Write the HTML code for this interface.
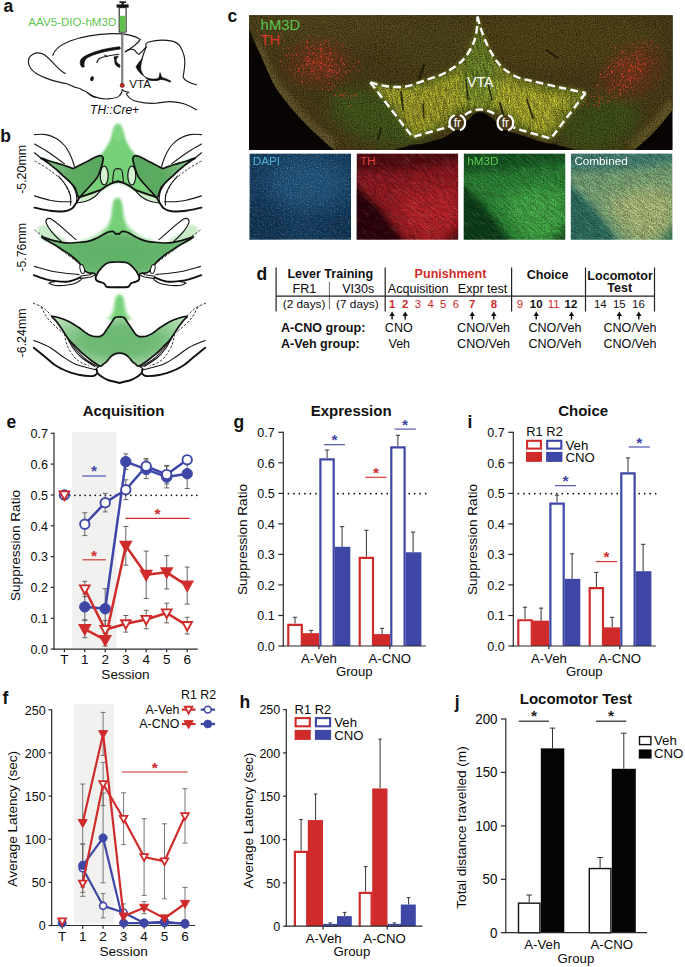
<!DOCTYPE html>
<html><head><meta charset="utf-8"><title>Figure</title><style>
html,body{margin:0;padding:0;background:#fff}
svg{display:block}
text{font-family:"Liberation Sans",sans-serif}
</style></head><body>
<svg width="685" height="967" viewBox="0 0 685 967">
<rect width="685" height="967" fill="#fff"/>
<text x="227.6" y="21.9" font-size="17.5" text-anchor="start" font-weight="bold" font-style="normal" fill="#111" >c</text>
<defs>
<clipPath id="cm"><rect x="249.0" y="15.2" width="423.70000000000005" height="134.8"/></clipPath>
<filter id="b2" x="-30%" y="-30%" width="160%" height="160%"><feGaussianBlur stdDeviation="2"/></filter>
<filter id="b4" x="-30%" y="-30%" width="160%" height="160%"><feGaussianBlur stdDeviation="4"/></filter>
<filter id="b8" x="-40%" y="-40%" width="180%" height="180%"><feGaussianBlur stdDeviation="8"/></filter>
<filter id="nz" x="0" y="0" width="100%" height="100%"><feTurbulence type="fractalNoise" baseFrequency="0.85" numOctaves="2" seed="7" result="t"/><feColorMatrix in="t" type="matrix" values="0 0 0 0 0  0 0 0 0 0  0 0 0 0 0  1.4 1.4 0 0 -1.0"/></filter>
<filter id="nzw" x="0" y="0" width="100%" height="100%"><feTurbulence type="fractalNoise" baseFrequency="0.7" numOctaves="2" seed="11" result="t"/><feColorMatrix in="t" type="matrix" values="0 0 0 0 1  0 0 0 0 1  0 0 0 0 1  0 2.4 2.4 0 -2.35"/></filter>
<filter id="nzr" x="0" y="0" width="100%" height="100%"><feTurbulence type="fractalNoise" baseFrequency="0.8" numOctaves="2" seed="23" result="t"/><feColorMatrix in="t" type="matrix" values="0 0 0 0 1  0 0 0 0 0.22  0 0 0 0 0.16  4 4 0 0 -4.3" result="n"/><feComposite in="n" in2="SourceGraphic" operator="in"/></filter>
<filter id="fib" x="0" y="0" width="100%" height="100%"><feTurbulence type="fractalNoise" baseFrequency="0.09 0.8" numOctaves="2" seed="4" result="t"/><feColorMatrix in="t" type="matrix" values="0 0 0 0 0  0 0 0 0 0  0 0 0 0 0  2.2 2.2 0 0 -1.75"/></filter>
<filter id="fibw" x="0" y="0" width="100%" height="100%"><feTurbulence type="fractalNoise" baseFrequency="0.1 0.9" numOctaves="2" seed="9" result="t"/><feColorMatrix in="t" type="matrix" values="0 0 0 0 1  0 0 0 0 1  0 0 0 0 0.6  0 2.6 2.6 0 -2.5"/></filter>
<radialGradient id="rg1"><stop offset="0" stop-color="#ff4030" stop-opacity="1"/><stop offset="0.55" stop-color="#ff4030" stop-opacity="0.7"/><stop offset="1" stop-color="#ff4030" stop-opacity="0"/></radialGradient>
<radialGradient id="rgl"><stop offset="0" stop-color="#b03a20" stop-opacity="0.55"/><stop offset="0.6" stop-color="#a03820" stop-opacity="0.3"/><stop offset="1" stop-color="#a03820" stop-opacity="0"/></radialGradient>
</defs>
<g clip-path="url(#cm)"><rect x="249.00" y="15.20" width="423.70" height="134.80" fill="#0a0605" stroke="none" stroke-width="0" />
<clipPath id="ctis"><path d="M249.0,10.0 C322.0,9.2 609.8,-4.3 682.0,10.0 C754.2,24.3 683.5,79.4 682.0,96.0 C680.5,112.6 676.0,105.0 672.7,109.5 C669.4,114.0 665.8,118.6 662.0,123.0 C658.2,127.4 654.5,131.6 650.0,136.0 C645.5,140.4 638.7,146.0 635.0,149.5 C631.3,153.0 640.4,155.8 628.0,157.0 C615.6,158.2 573.5,158.8 560.6,157.0 C547.8,155.2 556.2,149.6 550.9,146.5 C545.5,143.4 534.9,140.7 528.5,138.5 C522.1,136.3 517.1,135.9 512.4,133.6 C507.6,131.3 503.2,126.9 500.0,124.5 C496.8,122.1 495.4,121.0 493.1,119.2 C490.8,117.4 488.2,114.8 486.0,113.5 C483.8,112.2 482.0,111.4 480.0,111.5 C478.0,111.6 475.8,112.7 474.0,114.0 C472.2,115.3 471.7,116.9 469.0,119.2 C466.3,121.5 461.5,125.3 458.0,128.0 C454.5,130.7 451.2,133.4 448.2,135.2 C445.2,137.0 443.9,137.7 440.0,139.0 C436.1,140.3 430.0,141.2 425.0,143.0 C420.0,144.8 414.2,147.5 410.0,150.0 C405.8,152.5 410.8,156.7 400.0,158.0 C389.2,159.3 356.0,159.3 345.0,158.0 C334.0,156.7 337.2,152.5 334.0,150.0 C330.8,147.5 329.3,146.0 326.0,143.0 C322.7,140.0 318.3,136.2 314.0,132.0 C309.7,127.8 304.3,122.7 300.0,118.0 C295.7,113.3 292.0,109.0 288.0,104.0 C284.0,99.0 279.3,93.3 276.0,88.0 C272.7,82.7 270.3,77.0 268.0,72.0 C265.7,67.0 264.0,62.5 262.0,58.0 C260.0,53.5 258.2,50.0 256.0,45.0 C253.8,40.0 251.0,33.0 249.0,28.0 C247.0,23.0 244.0,18.0 244.0,15.0 C244.0,12.0 176.0,10.8 249.0,10.0 Z"/></clipPath>
<path d="M249.0,10.0 C322.0,9.2 609.8,-4.3 682.0,10.0 C754.2,24.3 683.5,79.4 682.0,96.0 C680.5,112.6 676.0,105.0 672.7,109.5 C669.4,114.0 665.8,118.6 662.0,123.0 C658.2,127.4 654.5,131.6 650.0,136.0 C645.5,140.4 638.7,146.0 635.0,149.5 C631.3,153.0 640.4,155.8 628.0,157.0 C615.6,158.2 573.5,158.8 560.6,157.0 C547.8,155.2 556.2,149.6 550.9,146.5 C545.5,143.4 534.9,140.7 528.5,138.5 C522.1,136.3 517.1,135.9 512.4,133.6 C507.6,131.3 503.2,126.9 500.0,124.5 C496.8,122.1 495.4,121.0 493.1,119.2 C490.8,117.4 488.2,114.8 486.0,113.5 C483.8,112.2 482.0,111.4 480.0,111.5 C478.0,111.6 475.8,112.7 474.0,114.0 C472.2,115.3 471.7,116.9 469.0,119.2 C466.3,121.5 461.5,125.3 458.0,128.0 C454.5,130.7 451.2,133.4 448.2,135.2 C445.2,137.0 443.9,137.7 440.0,139.0 C436.1,140.3 430.0,141.2 425.0,143.0 C420.0,144.8 414.2,147.5 410.0,150.0 C405.8,152.5 410.8,156.7 400.0,158.0 C389.2,159.3 356.0,159.3 345.0,158.0 C334.0,156.7 337.2,152.5 334.0,150.0 C330.8,147.5 329.3,146.0 326.0,143.0 C322.7,140.0 318.3,136.2 314.0,132.0 C309.7,127.8 304.3,122.7 300.0,118.0 C295.7,113.3 292.0,109.0 288.0,104.0 C284.0,99.0 279.3,93.3 276.0,88.0 C272.7,82.7 270.3,77.0 268.0,72.0 C265.7,67.0 264.0,62.5 262.0,58.0 C260.0,53.5 258.2,50.0 256.0,45.0 C253.8,40.0 251.0,33.0 249.0,28.0 C247.0,23.0 244.0,18.0 244.0,15.0 C244.0,12.0 176.0,10.8 249.0,10.0 Z" fill="#54461c"/>
<path d="M252.0,40.0 C253.2,42.3 256.7,49.0 259.0,54.0 C261.3,59.0 263.3,64.7 266.0,70.0 C268.7,75.3 271.3,80.5 275.0,86.0 C278.7,91.5 283.5,97.5 288.0,103.0 C292.5,108.5 297.0,113.8 302.0,119.0 C307.0,124.2 312.7,129.3 318.0,134.0 C323.3,138.7 331.3,144.8 334.0,147.0" fill="none" stroke="#7a6c38" stroke-width="14" opacity="0.75" filter="url(#b2)" clip-path="url(#ctis)"/>
<path d="M676.0,104.0 C674.0,106.7 668.3,114.8 664.0,120.0 C659.7,125.2 655.0,130.0 650.0,135.0 C645.0,140.0 636.7,147.5 634.0,150.0" fill="none" stroke="#7a6a32" stroke-width="18" opacity="0.8" filter="url(#b2)" clip-path="url(#ctis)"/>
<ellipse cx="330" cy="25" rx="90" ry="22" fill="#6a5a26" opacity="0.55" filter="url(#b8)"/>
<ellipse cx="560" cy="40" rx="100" ry="30" fill="#66561f" opacity="0.55" filter="url(#b8)"/>
<ellipse cx="440" cy="45" rx="50" ry="28" fill="#5e5420" opacity="0.6" filter="url(#b8)"/>
<ellipse cx="380" cy="118" rx="52" ry="24" fill="#4e6a22" opacity="0.9" filter="url(#b8)" transform="rotate(18 380 118)"/>
<ellipse cx="600" cy="124" rx="42" ry="26" fill="#48601f" opacity="0.9" filter="url(#b8)" transform="rotate(-20 600 124)"/>
<ellipse cx="318" cy="64" rx="42" ry="30" fill="url(#rgl)"/>
<ellipse cx="632" cy="72" rx="44" ry="32" fill="url(#rgl)" transform="rotate(-35 632 72)"/>
<circle cx="307.6" cy="42.7" r="0.85" fill="#ff4a38" opacity="0.97"/><circle cx="327.3" cy="36.9" r="0.46" fill="#ff4a38" opacity="0.76"/><circle cx="343.3" cy="63.2" r="0.90" fill="#ff4a38" opacity="0.60"/><circle cx="309.4" cy="58.5" r="0.72" fill="#ff4a38" opacity="0.81"/><circle cx="331.3" cy="65.4" r="0.59" fill="#ff4a38" opacity="0.96"/><circle cx="324.1" cy="55.3" r="0.85" fill="#ff4a38" opacity="0.61"/><circle cx="316.5" cy="55.3" r="0.45" fill="#ff4a38" opacity="0.94"/><circle cx="321.1" cy="68.9" r="0.94" fill="#ff4a38" opacity="0.94"/><circle cx="302.3" cy="83.2" r="0.72" fill="#ff4a38" opacity="0.86"/><circle cx="322.4" cy="88.3" r="0.80" fill="#ff4a38" opacity="0.98"/><circle cx="332.9" cy="59.2" r="0.63" fill="#ff4a38" opacity="0.62"/><circle cx="323.3" cy="65.2" r="0.60" fill="#ff4a38" opacity="0.82"/><circle cx="343.5" cy="69.6" r="0.62" fill="#ff4a38" opacity="0.69"/><circle cx="332.1" cy="52.9" r="0.61" fill="#ff4a38" opacity="0.77"/><circle cx="320.8" cy="57.1" r="0.94" fill="#ff4a38" opacity="0.56"/><circle cx="328.2" cy="41.0" r="0.46" fill="#ff4a38" opacity="0.90"/><circle cx="304.1" cy="66.3" r="0.45" fill="#ff4a38" opacity="0.57"/><circle cx="328.3" cy="90.1" r="0.55" fill="#ff4a38" opacity="0.89"/><circle cx="357.3" cy="62.3" r="0.62" fill="#ff4a38" opacity="0.71"/><circle cx="296.3" cy="48.9" r="0.50" fill="#ff4a38" opacity="0.89"/><circle cx="336.8" cy="44.6" r="0.47" fill="#ff4a38" opacity="0.98"/><circle cx="330.7" cy="70.3" r="0.76" fill="#ff4a38" opacity="0.96"/><circle cx="295.5" cy="74.2" r="0.72" fill="#ff4a38" opacity="0.69"/><circle cx="315.0" cy="65.5" r="0.49" fill="#ff4a38" opacity="0.62"/><circle cx="313.8" cy="21.7" r="0.53" fill="#ff4a38" opacity="0.57"/><circle cx="339.9" cy="66.7" r="0.65" fill="#ff4a38" opacity="0.66"/><circle cx="301.5" cy="41.7" r="0.68" fill="#ff4a38" opacity="0.74"/><circle cx="349.6" cy="80.3" r="0.47" fill="#ff4a38" opacity="0.77"/><circle cx="326.9" cy="57.9" r="0.82" fill="#ff4a38" opacity="0.98"/><circle cx="307.8" cy="41.1" r="0.50" fill="#ff4a38" opacity="0.75"/><circle cx="332.3" cy="83.3" r="0.60" fill="#ff4a38" opacity="0.75"/><circle cx="350.4" cy="71.6" r="0.94" fill="#ff4a38" opacity="0.75"/><circle cx="296.3" cy="53.4" r="0.69" fill="#ff4a38" opacity="0.68"/><circle cx="312.8" cy="61.8" r="0.64" fill="#ff4a38" opacity="0.99"/><circle cx="342.8" cy="64.8" r="0.70" fill="#ff4a38" opacity="0.70"/><circle cx="329.6" cy="69.1" r="0.84" fill="#ff4a38" opacity="0.94"/><circle cx="298.9" cy="68.7" r="0.84" fill="#ff4a38" opacity="0.86"/><circle cx="313.4" cy="41.3" r="0.63" fill="#ff4a38" opacity="0.87"/><circle cx="313.4" cy="71.5" r="0.83" fill="#ff4a38" opacity="0.86"/><circle cx="302.4" cy="81.4" r="0.77" fill="#ff4a38" opacity="0.81"/><circle cx="339.5" cy="68.8" r="0.58" fill="#ff4a38" opacity="0.85"/><circle cx="292.5" cy="55.6" r="0.77" fill="#ff4a38" opacity="0.91"/><circle cx="304.1" cy="68.6" r="0.82" fill="#ff4a38" opacity="0.92"/><circle cx="298.1" cy="70.9" r="0.88" fill="#ff4a38" opacity="0.86"/><circle cx="359.6" cy="70.7" r="0.71" fill="#ff4a38" opacity="0.79"/><circle cx="329.2" cy="83.2" r="0.92" fill="#ff4a38" opacity="0.76"/><circle cx="318.0" cy="42.5" r="0.82" fill="#ff4a38" opacity="0.63"/><circle cx="329.6" cy="49.0" r="0.78" fill="#ff4a38" opacity="0.74"/><circle cx="307.1" cy="41.7" r="0.77" fill="#ff4a38" opacity="0.87"/><circle cx="329.4" cy="65.2" r="0.67" fill="#ff4a38" opacity="0.84"/><circle cx="319.8" cy="78.0" r="0.77" fill="#ff4a38" opacity="0.57"/><circle cx="309.9" cy="58.5" r="0.48" fill="#ff4a38" opacity="0.61"/><circle cx="314.9" cy="65.5" r="0.55" fill="#ff4a38" opacity="0.57"/><circle cx="305.8" cy="58.0" r="0.76" fill="#ff4a38" opacity="0.82"/><circle cx="315.4" cy="84.2" r="0.45" fill="#ff4a38" opacity="0.73"/><circle cx="314.4" cy="70.4" r="0.51" fill="#ff4a38" opacity="0.92"/><circle cx="317.4" cy="62.0" r="0.76" fill="#ff4a38" opacity="0.59"/><circle cx="308.8" cy="53.6" r="0.74" fill="#ff4a38" opacity="0.98"/><circle cx="331.1" cy="53.6" r="0.86" fill="#ff4a38" opacity="0.84"/><circle cx="313.8" cy="63.1" r="0.75" fill="#ff4a38" opacity="0.80"/><circle cx="361.7" cy="67.6" r="0.75" fill="#ff4a38" opacity="0.71"/><circle cx="321.6" cy="60.9" r="0.50" fill="#ff4a38" opacity="0.80"/><circle cx="316.2" cy="55.0" r="0.76" fill="#ff4a38" opacity="0.95"/><circle cx="306.8" cy="64.6" r="0.56" fill="#ff4a38" opacity="0.68"/><circle cx="336.1" cy="64.5" r="0.93" fill="#ff4a38" opacity="0.96"/><circle cx="313.0" cy="53.0" r="0.94" fill="#ff4a38" opacity="0.77"/><circle cx="308.0" cy="61.5" r="0.94" fill="#ff4a38" opacity="0.77"/><circle cx="312.9" cy="71.0" r="0.51" fill="#ff4a38" opacity="0.83"/><circle cx="308.2" cy="59.7" r="0.84" fill="#ff4a38" opacity="0.92"/><circle cx="339.1" cy="68.8" r="0.59" fill="#ff4a38" opacity="0.97"/><circle cx="326.0" cy="54.2" r="0.58" fill="#ff4a38" opacity="0.62"/><circle cx="333.7" cy="64.9" r="0.75" fill="#ff4a38" opacity="0.76"/><circle cx="312.5" cy="45.3" r="0.82" fill="#ff4a38" opacity="0.60"/><circle cx="325.0" cy="52.6" r="0.72" fill="#ff4a38" opacity="0.70"/><circle cx="311.2" cy="71.2" r="0.68" fill="#ff4a38" opacity="0.71"/><circle cx="325.4" cy="47.0" r="0.47" fill="#ff4a38" opacity="0.66"/><circle cx="286.5" cy="55.6" r="0.89" fill="#ff4a38" opacity="0.80"/><circle cx="346.4" cy="72.1" r="0.66" fill="#ff4a38" opacity="0.81"/><circle cx="320.6" cy="44.9" r="0.69" fill="#ff4a38" opacity="0.96"/><circle cx="307.2" cy="63.7" r="0.88" fill="#ff4a38" opacity="0.64"/><circle cx="306.1" cy="76.7" r="0.48" fill="#ff4a38" opacity="0.93"/><circle cx="319.3" cy="48.7" r="0.59" fill="#ff4a38" opacity="0.90"/><circle cx="329.2" cy="60.5" r="0.69" fill="#ff4a38" opacity="0.80"/><circle cx="307.5" cy="56.2" r="0.53" fill="#ff4a38" opacity="0.81"/><circle cx="324.5" cy="58.2" r="0.57" fill="#ff4a38" opacity="0.92"/><circle cx="332.1" cy="48.4" r="0.46" fill="#ff4a38" opacity="0.88"/><circle cx="376.1" cy="75.5" r="0.80" fill="#ff4a38" opacity="0.57"/><circle cx="329.0" cy="57.0" r="0.77" fill="#ff4a38" opacity="0.98"/><circle cx="321.1" cy="54.9" r="0.60" fill="#ff4a38" opacity="0.96"/><circle cx="329.0" cy="76.9" r="0.66" fill="#ff4a38" opacity="0.62"/><circle cx="318.6" cy="57.7" r="0.50" fill="#ff4a38" opacity="0.72"/><circle cx="325.1" cy="64.3" r="0.74" fill="#ff4a38" opacity="0.88"/><circle cx="328.2" cy="59.3" r="0.67" fill="#ff4a38" opacity="0.69"/><circle cx="309.5" cy="48.8" r="0.92" fill="#ff4a38" opacity="0.72"/><circle cx="340.8" cy="74.4" r="0.53" fill="#ff4a38" opacity="0.83"/><circle cx="288.3" cy="48.2" r="0.73" fill="#ff4a38" opacity="0.83"/><circle cx="314.7" cy="73.5" r="0.58" fill="#ff4a38" opacity="0.89"/><circle cx="313.2" cy="57.5" r="0.57" fill="#ff4a38" opacity="0.72"/><circle cx="322.6" cy="54.2" r="0.81" fill="#ff4a38" opacity="0.84"/><circle cx="337.3" cy="75.8" r="0.50" fill="#ff4a38" opacity="0.61"/><circle cx="313.3" cy="53.4" r="0.89" fill="#ff4a38" opacity="0.77"/><circle cx="303.1" cy="73.2" r="0.46" fill="#ff4a38" opacity="0.88"/><circle cx="328.4" cy="65.9" r="0.93" fill="#ff4a38" opacity="0.86"/><circle cx="320.4" cy="66.5" r="0.94" fill="#ff4a38" opacity="0.85"/><circle cx="326.4" cy="57.2" r="0.76" fill="#ff4a38" opacity="0.71"/><circle cx="318.9" cy="70.7" r="0.76" fill="#ff4a38" opacity="0.71"/><circle cx="313.5" cy="62.5" r="0.87" fill="#ff4a38" opacity="0.84"/><circle cx="330.2" cy="52.6" r="0.88" fill="#ff4a38" opacity="0.78"/><circle cx="307.3" cy="47.6" r="0.82" fill="#ff4a38" opacity="0.73"/><circle cx="323.6" cy="63.7" r="0.55" fill="#ff4a38" opacity="0.57"/><circle cx="337.0" cy="58.2" r="0.83" fill="#ff4a38" opacity="0.55"/><circle cx="288.5" cy="53.8" r="0.76" fill="#ff4a38" opacity="0.74"/><circle cx="313.9" cy="59.6" r="0.53" fill="#ff4a38" opacity="0.62"/><circle cx="307.9" cy="64.4" r="0.89" fill="#ff4a38" opacity="0.62"/><circle cx="317.7" cy="69.2" r="0.53" fill="#ff4a38" opacity="0.68"/><circle cx="318.3" cy="73.4" r="0.47" fill="#ff4a38" opacity="0.97"/><circle cx="290.4" cy="70.1" r="0.79" fill="#ff4a38" opacity="0.85"/><circle cx="283.7" cy="52.4" r="0.51" fill="#ff4a38" opacity="0.85"/><circle cx="309.8" cy="73.9" r="0.81" fill="#ff4a38" opacity="0.62"/><circle cx="321.2" cy="63.6" r="0.57" fill="#ff4a38" opacity="0.59"/><circle cx="282.1" cy="65.2" r="0.63" fill="#ff4a38" opacity="0.69"/><circle cx="308.4" cy="58.3" r="0.82" fill="#ff4a38" opacity="0.87"/><circle cx="324.4" cy="69.7" r="0.79" fill="#ff4a38" opacity="0.97"/><circle cx="314.5" cy="48.8" r="0.94" fill="#ff4a38" opacity="0.55"/><circle cx="342.8" cy="76.5" r="0.66" fill="#ff4a38" opacity="0.57"/><circle cx="281.1" cy="35.9" r="0.71" fill="#ff4a38" opacity="0.71"/><circle cx="325.0" cy="65.0" r="0.90" fill="#ff4a38" opacity="0.77"/><circle cx="326.1" cy="61.3" r="0.57" fill="#ff4a38" opacity="0.57"/><circle cx="316.0" cy="61.6" r="0.58" fill="#ff4a38" opacity="0.73"/><circle cx="318.2" cy="63.5" r="0.47" fill="#ff4a38" opacity="0.99"/><circle cx="324.6" cy="74.9" r="0.65" fill="#ff4a38" opacity="0.79"/><circle cx="330.6" cy="69.6" r="0.50" fill="#ff4a38" opacity="0.79"/><circle cx="341.3" cy="60.9" r="0.88" fill="#ff4a38" opacity="0.65"/><circle cx="339.1" cy="69.2" r="0.69" fill="#ff4a38" opacity="0.81"/><circle cx="302.3" cy="65.7" r="0.81" fill="#ff4a38" opacity="0.96"/><circle cx="311.3" cy="69.4" r="0.86" fill="#ff4a38" opacity="0.65"/><circle cx="328.5" cy="70.5" r="0.49" fill="#ff4a38" opacity="0.90"/><circle cx="329.5" cy="54.9" r="0.51" fill="#ff4a38" opacity="0.59"/><circle cx="319.6" cy="65.4" r="0.66" fill="#ff4a38" opacity="0.81"/><circle cx="319.8" cy="64.7" r="0.80" fill="#ff4a38" opacity="0.57"/><circle cx="321.9" cy="70.5" r="0.64" fill="#ff4a38" opacity="0.59"/><circle cx="308.0" cy="61.1" r="0.83" fill="#ff4a38" opacity="0.80"/><circle cx="341.7" cy="58.2" r="0.83" fill="#ff4a38" opacity="0.81"/><circle cx="292.6" cy="58.3" r="0.78" fill="#ff4a38" opacity="0.98"/><circle cx="323.6" cy="43.9" r="0.58" fill="#ff4a38" opacity="0.92"/><circle cx="313.8" cy="62.5" r="0.48" fill="#ff4a38" opacity="0.63"/><circle cx="313.6" cy="75.8" r="0.59" fill="#ff4a38" opacity="0.58"/><circle cx="327.4" cy="48.5" r="0.46" fill="#ff4a38" opacity="0.57"/><circle cx="328.1" cy="71.6" r="0.88" fill="#ff4a38" opacity="0.98"/><circle cx="314.5" cy="53.1" r="0.66" fill="#ff4a38" opacity="0.71"/><circle cx="319.3" cy="62.0" r="0.74" fill="#ff4a38" opacity="0.92"/><circle cx="321.7" cy="56.1" r="0.72" fill="#ff4a38" opacity="0.63"/><circle cx="320.8" cy="48.6" r="0.92" fill="#ff4a38" opacity="0.91"/><circle cx="328.5" cy="70.6" r="0.91" fill="#ff4a38" opacity="0.76"/><circle cx="304.5" cy="60.1" r="0.83" fill="#ff4a38" opacity="0.97"/><circle cx="284.1" cy="41.3" r="0.75" fill="#ff4a38" opacity="0.60"/><circle cx="330.8" cy="53.3" r="0.48" fill="#ff4a38" opacity="0.99"/><circle cx="339.3" cy="70.8" r="0.69" fill="#ff4a38" opacity="0.95"/><circle cx="311.2" cy="62.5" r="0.59" fill="#ff4a38" opacity="0.64"/><circle cx="309.3" cy="52.5" r="0.83" fill="#ff4a38" opacity="0.66"/><circle cx="311.9" cy="64.8" r="0.94" fill="#ff4a38" opacity="0.93"/><circle cx="337.5" cy="53.8" r="0.65" fill="#ff4a38" opacity="0.61"/><circle cx="333.4" cy="53.7" r="0.47" fill="#ff4a38" opacity="0.63"/><circle cx="337.0" cy="77.6" r="0.90" fill="#ff4a38" opacity="0.64"/><circle cx="328.1" cy="53.7" r="0.79" fill="#ff4a38" opacity="0.94"/><circle cx="306.4" cy="41.0" r="0.64" fill="#ff4a38" opacity="0.55"/><circle cx="301.4" cy="52.7" r="0.54" fill="#ff4a38" opacity="0.73"/><circle cx="318.8" cy="62.7" r="0.61" fill="#ff4a38" opacity="0.72"/><circle cx="296.9" cy="55.0" r="0.65" fill="#ff4a38" opacity="0.99"/><circle cx="342.5" cy="44.5" r="0.80" fill="#ff4a38" opacity="0.85"/><circle cx="296.3" cy="47.2" r="0.63" fill="#ff4a38" opacity="0.82"/><circle cx="317.3" cy="46.8" r="0.59" fill="#ff4a38" opacity="0.58"/><circle cx="331.2" cy="70.4" r="0.74" fill="#ff4a38" opacity="0.89"/><circle cx="321.3" cy="51.3" r="0.91" fill="#ff4a38" opacity="0.67"/><circle cx="321.2" cy="56.6" r="0.83" fill="#ff4a38" opacity="0.85"/><circle cx="354.0" cy="66.4" r="0.79" fill="#ff4a38" opacity="0.93"/><circle cx="324.7" cy="46.3" r="0.55" fill="#ff4a38" opacity="0.78"/><circle cx="331.5" cy="59.6" r="0.94" fill="#ff4a38" opacity="0.79"/><circle cx="319.9" cy="61.2" r="0.65" fill="#ff4a38" opacity="0.63"/><circle cx="309.2" cy="36.1" r="0.91" fill="#ff4a38" opacity="0.83"/><circle cx="314.4" cy="62.3" r="0.79" fill="#ff4a38" opacity="0.80"/><circle cx="321.4" cy="50.1" r="0.89" fill="#ff4a38" opacity="0.65"/><circle cx="314.1" cy="67.2" r="0.76" fill="#ff4a38" opacity="0.95"/><circle cx="326.9" cy="77.5" r="0.83" fill="#ff4a38" opacity="0.65"/><circle cx="337.1" cy="72.7" r="0.87" fill="#ff4a38" opacity="0.95"/><circle cx="322.7" cy="49.6" r="0.66" fill="#ff4a38" opacity="0.79"/><circle cx="333.3" cy="59.9" r="0.59" fill="#ff4a38" opacity="0.82"/><circle cx="331.0" cy="63.1" r="0.47" fill="#ff4a38" opacity="0.60"/><circle cx="304.1" cy="48.7" r="0.54" fill="#ff4a38" opacity="0.64"/><circle cx="306.1" cy="46.1" r="0.80" fill="#ff4a38" opacity="0.88"/><circle cx="335.4" cy="71.3" r="0.87" fill="#ff4a38" opacity="0.98"/><circle cx="302.1" cy="74.9" r="0.77" fill="#ff4a38" opacity="0.97"/><circle cx="318.3" cy="77.9" r="0.87" fill="#ff4a38" opacity="0.76"/><circle cx="327.5" cy="67.9" r="0.53" fill="#ff4a38" opacity="0.59"/><circle cx="328.8" cy="77.0" r="0.50" fill="#ff4a38" opacity="0.89"/><circle cx="325.5" cy="41.2" r="0.85" fill="#ff4a38" opacity="0.87"/><circle cx="358.8" cy="61.3" r="0.76" fill="#ff4a38" opacity="0.98"/><circle cx="325.5" cy="65.9" r="0.48" fill="#ff4a38" opacity="0.64"/><circle cx="306.3" cy="64.9" r="0.79" fill="#ff4a38" opacity="0.88"/><circle cx="332.3" cy="71.1" r="0.72" fill="#ff4a38" opacity="0.72"/><circle cx="332.6" cy="75.8" r="0.64" fill="#ff4a38" opacity="0.86"/><circle cx="282.2" cy="47.7" r="0.92" fill="#ff4a38" opacity="0.58"/><circle cx="328.5" cy="45.0" r="0.60" fill="#ff4a38" opacity="0.60"/><circle cx="306.6" cy="57.2" r="0.82" fill="#ff4a38" opacity="0.96"/><circle cx="309.7" cy="63.4" r="0.70" fill="#ff4a38" opacity="0.86"/><circle cx="330.6" cy="49.6" r="0.60" fill="#ff4a38" opacity="0.70"/><circle cx="335.2" cy="54.6" r="0.48" fill="#ff4a38" opacity="0.74"/><circle cx="317.1" cy="76.9" r="0.49" fill="#ff4a38" opacity="0.67"/><circle cx="332.7" cy="72.8" r="0.94" fill="#ff4a38" opacity="0.79"/><circle cx="288.8" cy="67.2" r="0.50" fill="#ff4a38" opacity="0.71"/><circle cx="321.9" cy="60.2" r="0.83" fill="#ff4a38" opacity="0.71"/><circle cx="332.1" cy="65.9" r="0.68" fill="#ff4a38" opacity="0.72"/><circle cx="316.2" cy="58.8" r="0.56" fill="#ff4a38" opacity="0.99"/><circle cx="303.6" cy="59.3" r="0.49" fill="#ff4a38" opacity="0.68"/><circle cx="344.6" cy="64.6" r="0.70" fill="#ff4a38" opacity="0.57"/><circle cx="296.5" cy="64.8" r="0.67" fill="#ff4a38" opacity="0.82"/><circle cx="341.8" cy="58.9" r="0.77" fill="#ff4a38" opacity="0.57"/><circle cx="345.5" cy="72.9" r="0.66" fill="#ff4a38" opacity="0.94"/><circle cx="343.7" cy="46.1" r="0.64" fill="#ff4a38" opacity="1.00"/><circle cx="330.2" cy="39.7" r="0.52" fill="#ff4a38" opacity="0.90"/><circle cx="280.8" cy="61.1" r="0.95" fill="#ff4a38" opacity="0.65"/><circle cx="309.1" cy="61.1" r="0.68" fill="#ff4a38" opacity="0.68"/><circle cx="318.8" cy="55.0" r="0.53" fill="#ff4a38" opacity="0.76"/><circle cx="332.5" cy="70.3" r="0.90" fill="#ff4a38" opacity="0.95"/><circle cx="321.3" cy="63.2" r="0.86" fill="#ff4a38" opacity="0.98"/><circle cx="315.6" cy="55.3" r="0.57" fill="#ff4a38" opacity="0.96"/><circle cx="324.9" cy="61.3" r="0.54" fill="#ff4a38" opacity="0.74"/><circle cx="312.1" cy="77.3" r="0.64" fill="#ff4a38" opacity="0.90"/><circle cx="327.8" cy="75.0" r="0.94" fill="#ff4a38" opacity="0.87"/><circle cx="326.2" cy="65.9" r="0.77" fill="#ff4a38" opacity="0.72"/><circle cx="623.3" cy="85.5" r="0.74" fill="#ff4a38" opacity="0.98"/><circle cx="637.7" cy="78.7" r="0.58" fill="#ff4a38" opacity="0.80"/><circle cx="623.6" cy="66.8" r="0.69" fill="#ff4a38" opacity="0.87"/><circle cx="651.5" cy="50.0" r="0.66" fill="#ff4a38" opacity="0.78"/><circle cx="602.2" cy="78.0" r="0.48" fill="#ff4a38" opacity="0.78"/><circle cx="642.4" cy="60.2" r="0.62" fill="#ff4a38" opacity="0.56"/><circle cx="630.7" cy="81.7" r="0.78" fill="#ff4a38" opacity="0.97"/><circle cx="622.7" cy="86.8" r="0.81" fill="#ff4a38" opacity="0.97"/><circle cx="659.6" cy="29.1" r="0.60" fill="#ff4a38" opacity="0.62"/><circle cx="631.8" cy="64.4" r="0.67" fill="#ff4a38" opacity="0.88"/><circle cx="613.8" cy="80.4" r="0.91" fill="#ff4a38" opacity="0.68"/><circle cx="600.1" cy="87.0" r="0.52" fill="#ff4a38" opacity="0.71"/><circle cx="611.0" cy="85.9" r="0.55" fill="#ff4a38" opacity="0.75"/><circle cx="634.4" cy="66.4" r="0.62" fill="#ff4a38" opacity="0.61"/><circle cx="637.2" cy="59.6" r="0.59" fill="#ff4a38" opacity="0.90"/><circle cx="622.2" cy="64.7" r="0.86" fill="#ff4a38" opacity="0.83"/><circle cx="619.7" cy="89.7" r="0.57" fill="#ff4a38" opacity="0.67"/><circle cx="633.2" cy="55.2" r="0.90" fill="#ff4a38" opacity="0.63"/><circle cx="632.5" cy="69.3" r="0.82" fill="#ff4a38" opacity="0.80"/><circle cx="632.1" cy="66.6" r="0.86" fill="#ff4a38" opacity="0.77"/><circle cx="629.3" cy="66.1" r="0.74" fill="#ff4a38" opacity="0.60"/><circle cx="615.6" cy="62.9" r="0.76" fill="#ff4a38" opacity="0.65"/><circle cx="633.1" cy="63.3" r="0.48" fill="#ff4a38" opacity="0.86"/><circle cx="633.5" cy="67.8" r="0.68" fill="#ff4a38" opacity="0.84"/><circle cx="637.9" cy="47.6" r="0.48" fill="#ff4a38" opacity="0.84"/><circle cx="628.9" cy="63.5" r="0.83" fill="#ff4a38" opacity="0.67"/><circle cx="628.1" cy="70.6" r="0.83" fill="#ff4a38" opacity="0.78"/><circle cx="635.9" cy="54.2" r="0.53" fill="#ff4a38" opacity="0.65"/><circle cx="641.4" cy="90.4" r="0.55" fill="#ff4a38" opacity="0.59"/><circle cx="626.9" cy="75.4" r="0.66" fill="#ff4a38" opacity="0.83"/><circle cx="619.8" cy="70.6" r="0.52" fill="#ff4a38" opacity="0.77"/><circle cx="615.7" cy="67.6" r="0.74" fill="#ff4a38" opacity="0.96"/><circle cx="638.6" cy="68.8" r="0.70" fill="#ff4a38" opacity="0.79"/><circle cx="636.8" cy="52.0" r="0.78" fill="#ff4a38" opacity="0.74"/><circle cx="621.0" cy="51.3" r="0.60" fill="#ff4a38" opacity="0.60"/><circle cx="633.6" cy="77.6" r="0.89" fill="#ff4a38" opacity="0.67"/><circle cx="607.9" cy="74.1" r="0.93" fill="#ff4a38" opacity="0.60"/><circle cx="623.5" cy="62.0" r="0.50" fill="#ff4a38" opacity="0.83"/><circle cx="630.5" cy="53.0" r="0.47" fill="#ff4a38" opacity="0.99"/><circle cx="620.1" cy="89.8" r="0.81" fill="#ff4a38" opacity="0.67"/><circle cx="621.2" cy="82.6" r="0.50" fill="#ff4a38" opacity="0.58"/><circle cx="618.4" cy="65.1" r="0.88" fill="#ff4a38" opacity="0.58"/><circle cx="629.3" cy="76.9" r="0.92" fill="#ff4a38" opacity="0.91"/><circle cx="635.8" cy="53.3" r="0.50" fill="#ff4a38" opacity="0.74"/><circle cx="630.0" cy="71.3" r="0.73" fill="#ff4a38" opacity="0.68"/><circle cx="645.5" cy="64.3" r="0.92" fill="#ff4a38" opacity="0.98"/><circle cx="622.6" cy="76.2" r="0.83" fill="#ff4a38" opacity="0.60"/><circle cx="621.9" cy="74.2" r="0.94" fill="#ff4a38" opacity="0.79"/><circle cx="620.2" cy="81.1" r="0.73" fill="#ff4a38" opacity="0.99"/><circle cx="621.8" cy="79.6" r="0.71" fill="#ff4a38" opacity="0.96"/><circle cx="620.4" cy="89.7" r="0.91" fill="#ff4a38" opacity="0.70"/><circle cx="626.5" cy="56.0" r="0.52" fill="#ff4a38" opacity="0.57"/><circle cx="639.1" cy="54.4" r="0.67" fill="#ff4a38" opacity="0.96"/><circle cx="610.4" cy="78.8" r="0.59" fill="#ff4a38" opacity="0.88"/><circle cx="634.9" cy="78.9" r="0.83" fill="#ff4a38" opacity="0.82"/><circle cx="637.4" cy="68.3" r="0.80" fill="#ff4a38" opacity="0.88"/><circle cx="679.0" cy="52.1" r="0.52" fill="#ff4a38" opacity="0.63"/><circle cx="644.2" cy="63.2" r="0.76" fill="#ff4a38" opacity="0.94"/><circle cx="647.6" cy="70.2" r="0.50" fill="#ff4a38" opacity="0.81"/><circle cx="634.1" cy="77.1" r="0.48" fill="#ff4a38" opacity="0.87"/><circle cx="652.3" cy="64.1" r="0.62" fill="#ff4a38" opacity="0.82"/><circle cx="612.1" cy="72.4" r="0.89" fill="#ff4a38" opacity="0.96"/><circle cx="631.5" cy="78.7" r="0.89" fill="#ff4a38" opacity="0.61"/><circle cx="619.2" cy="84.6" r="0.94" fill="#ff4a38" opacity="0.61"/><circle cx="606.0" cy="71.0" r="0.81" fill="#ff4a38" opacity="0.55"/><circle cx="636.9" cy="58.0" r="0.88" fill="#ff4a38" opacity="0.85"/><circle cx="611.7" cy="96.9" r="0.79" fill="#ff4a38" opacity="0.70"/><circle cx="618.3" cy="62.9" r="0.81" fill="#ff4a38" opacity="0.83"/><circle cx="626.5" cy="63.8" r="0.70" fill="#ff4a38" opacity="0.55"/><circle cx="622.7" cy="52.4" r="0.87" fill="#ff4a38" opacity="0.57"/><circle cx="611.4" cy="81.5" r="0.51" fill="#ff4a38" opacity="0.64"/><circle cx="651.7" cy="44.4" r="0.57" fill="#ff4a38" opacity="0.92"/><circle cx="615.0" cy="71.0" r="0.77" fill="#ff4a38" opacity="0.65"/><circle cx="628.7" cy="71.3" r="0.78" fill="#ff4a38" opacity="0.81"/><circle cx="619.4" cy="61.8" r="0.67" fill="#ff4a38" opacity="0.69"/><circle cx="620.4" cy="63.9" r="0.75" fill="#ff4a38" opacity="0.89"/><circle cx="612.3" cy="91.1" r="0.48" fill="#ff4a38" opacity="0.67"/><circle cx="628.9" cy="62.8" r="0.48" fill="#ff4a38" opacity="0.56"/><circle cx="625.5" cy="65.9" r="0.68" fill="#ff4a38" opacity="0.75"/><circle cx="625.8" cy="57.5" r="0.71" fill="#ff4a38" opacity="0.56"/><circle cx="623.4" cy="52.0" r="0.76" fill="#ff4a38" opacity="0.93"/><circle cx="605.0" cy="76.7" r="0.88" fill="#ff4a38" opacity="0.83"/><circle cx="657.3" cy="47.1" r="0.94" fill="#ff4a38" opacity="0.64"/><circle cx="641.6" cy="62.7" r="0.50" fill="#ff4a38" opacity="0.72"/><circle cx="638.5" cy="65.6" r="0.45" fill="#ff4a38" opacity="0.74"/><circle cx="631.6" cy="87.4" r="0.64" fill="#ff4a38" opacity="0.62"/><circle cx="651.1" cy="41.0" r="0.79" fill="#ff4a38" opacity="0.65"/><circle cx="620.2" cy="85.5" r="0.65" fill="#ff4a38" opacity="0.56"/><circle cx="609.2" cy="93.3" r="0.80" fill="#ff4a38" opacity="0.94"/><circle cx="608.4" cy="66.9" r="0.89" fill="#ff4a38" opacity="0.96"/><circle cx="625.0" cy="59.2" r="0.78" fill="#ff4a38" opacity="0.85"/><circle cx="636.6" cy="48.0" r="0.67" fill="#ff4a38" opacity="0.64"/><circle cx="627.7" cy="79.3" r="0.79" fill="#ff4a38" opacity="0.90"/><circle cx="641.6" cy="73.3" r="0.87" fill="#ff4a38" opacity="0.71"/><circle cx="648.2" cy="62.1" r="0.63" fill="#ff4a38" opacity="0.61"/><circle cx="628.4" cy="71.2" r="0.52" fill="#ff4a38" opacity="0.74"/><circle cx="629.6" cy="69.5" r="0.72" fill="#ff4a38" opacity="0.98"/><circle cx="628.9" cy="58.9" r="0.91" fill="#ff4a38" opacity="0.59"/><circle cx="629.5" cy="69.9" r="0.48" fill="#ff4a38" opacity="0.82"/><circle cx="621.0" cy="60.9" r="0.85" fill="#ff4a38" opacity="0.75"/><circle cx="639.5" cy="50.6" r="0.72" fill="#ff4a38" opacity="0.63"/><circle cx="618.3" cy="85.2" r="0.86" fill="#ff4a38" opacity="0.65"/><circle cx="633.0" cy="89.3" r="0.49" fill="#ff4a38" opacity="0.79"/><circle cx="641.5" cy="77.4" r="0.75" fill="#ff4a38" opacity="0.59"/><circle cx="619.5" cy="64.0" r="0.61" fill="#ff4a38" opacity="0.94"/><circle cx="624.4" cy="61.8" r="0.79" fill="#ff4a38" opacity="0.61"/><circle cx="622.2" cy="74.6" r="0.77" fill="#ff4a38" opacity="0.96"/><circle cx="624.0" cy="70.7" r="0.71" fill="#ff4a38" opacity="0.76"/><circle cx="622.2" cy="77.9" r="0.59" fill="#ff4a38" opacity="0.75"/><circle cx="650.4" cy="58.5" r="0.57" fill="#ff4a38" opacity="0.68"/><circle cx="640.6" cy="64.8" r="0.92" fill="#ff4a38" opacity="0.68"/><circle cx="641.6" cy="64.7" r="0.92" fill="#ff4a38" opacity="0.59"/><circle cx="626.8" cy="78.8" r="0.79" fill="#ff4a38" opacity="0.76"/><circle cx="657.4" cy="59.0" r="0.61" fill="#ff4a38" opacity="0.86"/><circle cx="606.0" cy="97.7" r="0.48" fill="#ff4a38" opacity="0.65"/><circle cx="630.8" cy="77.8" r="0.86" fill="#ff4a38" opacity="0.78"/><circle cx="625.4" cy="85.4" r="0.87" fill="#ff4a38" opacity="0.81"/><circle cx="612.3" cy="90.1" r="0.76" fill="#ff4a38" opacity="0.73"/><circle cx="623.2" cy="77.5" r="0.67" fill="#ff4a38" opacity="0.95"/><circle cx="629.6" cy="80.6" r="0.75" fill="#ff4a38" opacity="0.82"/><circle cx="641.1" cy="71.3" r="0.82" fill="#ff4a38" opacity="0.57"/><circle cx="652.5" cy="62.2" r="0.90" fill="#ff4a38" opacity="0.58"/><circle cx="649.0" cy="60.4" r="0.59" fill="#ff4a38" opacity="0.85"/><circle cx="644.0" cy="58.8" r="0.53" fill="#ff4a38" opacity="0.70"/><circle cx="615.0" cy="66.7" r="0.88" fill="#ff4a38" opacity="0.93"/><circle cx="600.2" cy="77.3" r="0.54" fill="#ff4a38" opacity="0.76"/><circle cx="628.6" cy="86.6" r="0.51" fill="#ff4a38" opacity="0.95"/><circle cx="620.4" cy="93.9" r="0.92" fill="#ff4a38" opacity="0.97"/><circle cx="616.1" cy="97.6" r="0.95" fill="#ff4a38" opacity="0.61"/><circle cx="616.9" cy="58.3" r="0.68" fill="#ff4a38" opacity="0.68"/><circle cx="640.5" cy="71.0" r="0.92" fill="#ff4a38" opacity="0.73"/><circle cx="636.7" cy="80.9" r="0.67" fill="#ff4a38" opacity="0.83"/><circle cx="619.0" cy="81.2" r="0.47" fill="#ff4a38" opacity="0.92"/><circle cx="618.4" cy="70.2" r="0.70" fill="#ff4a38" opacity="0.81"/><circle cx="598.9" cy="95.5" r="0.84" fill="#ff4a38" opacity="0.69"/><circle cx="626.1" cy="87.4" r="0.53" fill="#ff4a38" opacity="0.97"/><circle cx="645.3" cy="58.9" r="0.59" fill="#ff4a38" opacity="0.79"/><circle cx="638.5" cy="63.3" r="0.94" fill="#ff4a38" opacity="0.90"/><circle cx="637.9" cy="75.7" r="0.47" fill="#ff4a38" opacity="0.60"/><circle cx="659.8" cy="77.6" r="0.61" fill="#ff4a38" opacity="0.66"/><circle cx="635.2" cy="66.1" r="0.95" fill="#ff4a38" opacity="0.88"/><circle cx="644.2" cy="43.1" r="0.84" fill="#ff4a38" opacity="0.66"/><circle cx="637.8" cy="70.5" r="0.48" fill="#ff4a38" opacity="0.63"/><circle cx="617.4" cy="64.2" r="0.46" fill="#ff4a38" opacity="0.69"/><circle cx="632.7" cy="44.5" r="0.81" fill="#ff4a38" opacity="0.88"/><circle cx="638.0" cy="51.9" r="0.64" fill="#ff4a38" opacity="0.81"/><circle cx="629.0" cy="72.6" r="0.58" fill="#ff4a38" opacity="0.76"/><circle cx="633.9" cy="68.5" r="0.57" fill="#ff4a38" opacity="0.72"/><circle cx="640.8" cy="54.3" r="0.87" fill="#ff4a38" opacity="0.88"/><circle cx="614.9" cy="75.3" r="0.65" fill="#ff4a38" opacity="0.69"/><circle cx="600.7" cy="74.8" r="0.85" fill="#ff4a38" opacity="0.68"/><circle cx="629.8" cy="69.9" r="0.74" fill="#ff4a38" opacity="0.65"/><circle cx="639.5" cy="60.0" r="0.56" fill="#ff4a38" opacity="0.64"/><circle cx="611.3" cy="69.7" r="0.59" fill="#ff4a38" opacity="0.88"/><circle cx="650.7" cy="78.8" r="0.51" fill="#ff4a38" opacity="0.82"/><circle cx="611.5" cy="63.9" r="0.69" fill="#ff4a38" opacity="0.94"/><circle cx="606.5" cy="74.4" r="0.49" fill="#ff4a38" opacity="0.63"/><circle cx="613.4" cy="86.8" r="0.50" fill="#ff4a38" opacity="0.88"/><circle cx="625.6" cy="84.7" r="0.71" fill="#ff4a38" opacity="0.93"/><circle cx="630.6" cy="84.0" r="0.75" fill="#ff4a38" opacity="0.84"/><circle cx="628.9" cy="79.3" r="0.69" fill="#ff4a38" opacity="0.82"/><circle cx="620.8" cy="70.8" r="0.67" fill="#ff4a38" opacity="0.80"/><circle cx="633.0" cy="71.3" r="0.91" fill="#ff4a38" opacity="0.56"/><circle cx="616.9" cy="80.1" r="0.47" fill="#ff4a38" opacity="0.67"/><circle cx="640.9" cy="69.9" r="0.90" fill="#ff4a38" opacity="0.59"/><circle cx="624.0" cy="90.3" r="0.76" fill="#ff4a38" opacity="0.56"/><circle cx="634.8" cy="74.7" r="0.90" fill="#ff4a38" opacity="0.75"/><circle cx="634.9" cy="79.1" r="0.69" fill="#ff4a38" opacity="0.62"/><circle cx="608.1" cy="69.3" r="0.69" fill="#ff4a38" opacity="0.79"/><circle cx="615.7" cy="47.7" r="0.76" fill="#ff4a38" opacity="0.57"/><circle cx="608.0" cy="87.4" r="0.62" fill="#ff4a38" opacity="0.86"/><circle cx="622.4" cy="88.8" r="0.76" fill="#ff4a38" opacity="0.85"/><circle cx="642.0" cy="47.9" r="0.80" fill="#ff4a38" opacity="0.87"/><circle cx="639.4" cy="78.2" r="0.76" fill="#ff4a38" opacity="0.58"/><circle cx="623.5" cy="64.4" r="0.70" fill="#ff4a38" opacity="0.79"/><circle cx="612.8" cy="61.1" r="0.68" fill="#ff4a38" opacity="0.97"/><circle cx="614.8" cy="88.0" r="0.95" fill="#ff4a38" opacity="0.70"/><circle cx="604.2" cy="58.6" r="0.49" fill="#ff4a38" opacity="0.90"/><circle cx="611.6" cy="71.1" r="0.84" fill="#ff4a38" opacity="0.94"/><circle cx="643.5" cy="68.4" r="0.76" fill="#ff4a38" opacity="0.86"/><circle cx="648.2" cy="45.6" r="0.86" fill="#ff4a38" opacity="0.58"/><circle cx="608.1" cy="101.2" r="0.92" fill="#ff4a38" opacity="0.89"/><circle cx="626.4" cy="91.4" r="0.72" fill="#ff4a38" opacity="0.85"/><circle cx="600.4" cy="74.4" r="0.81" fill="#ff4a38" opacity="0.99"/><circle cx="612.7" cy="84.4" r="0.78" fill="#ff4a38" opacity="0.80"/><circle cx="665.4" cy="46.7" r="0.61" fill="#ff4a38" opacity="0.77"/><circle cx="637.5" cy="63.7" r="0.91" fill="#ff4a38" opacity="0.67"/><circle cx="632.3" cy="89.6" r="0.57" fill="#ff4a38" opacity="0.85"/><circle cx="596.2" cy="86.7" r="0.69" fill="#ff4a38" opacity="0.70"/><circle cx="633.6" cy="77.7" r="0.45" fill="#ff4a38" opacity="0.60"/><circle cx="639.6" cy="69.0" r="0.83" fill="#ff4a38" opacity="0.97"/><circle cx="625.8" cy="80.0" r="0.60" fill="#ff4a38" opacity="0.83"/><circle cx="621.8" cy="76.5" r="0.71" fill="#ff4a38" opacity="0.67"/><circle cx="651.7" cy="67.2" r="0.50" fill="#ff4a38" opacity="0.75"/><circle cx="621.3" cy="59.2" r="0.89" fill="#ff4a38" opacity="0.69"/><circle cx="631.1" cy="65.9" r="0.90" fill="#ff4a38" opacity="0.74"/><circle cx="638.5" cy="60.8" r="0.94" fill="#ff4a38" opacity="0.87"/><circle cx="613.9" cy="58.2" r="0.45" fill="#ff4a38" opacity="0.69"/><circle cx="602.5" cy="99.3" r="0.90" fill="#ff4a38" opacity="0.62"/><circle cx="644.3" cy="54.0" r="0.60" fill="#ff4a38" opacity="0.59"/><circle cx="327.2" cy="89.4" r="0.68" fill="#ff4a38" opacity="0.69"/><circle cx="348.4" cy="95.2" r="0.60" fill="#ff4a38" opacity="0.90"/><circle cx="336.6" cy="96.0" r="0.50" fill="#ff4a38" opacity="0.66"/><circle cx="350.7" cy="97.8" r="0.71" fill="#ff4a38" opacity="0.85"/><circle cx="334.6" cy="85.7" r="0.63" fill="#ff4a38" opacity="0.62"/><circle cx="342.4" cy="94.4" r="0.65" fill="#ff4a38" opacity="0.55"/><circle cx="335.6" cy="87.3" r="0.57" fill="#ff4a38" opacity="0.69"/><circle cx="331.7" cy="89.2" r="0.88" fill="#ff4a38" opacity="0.77"/><circle cx="341.2" cy="94.3" r="0.90" fill="#ff4a38" opacity="0.81"/><circle cx="331.7" cy="95.8" r="0.47" fill="#ff4a38" opacity="0.95"/><circle cx="351.3" cy="95.7" r="0.48" fill="#ff4a38" opacity="0.74"/><circle cx="346.2" cy="90.8" r="0.55" fill="#ff4a38" opacity="0.66"/><circle cx="347.3" cy="98.4" r="0.54" fill="#ff4a38" opacity="0.75"/><circle cx="355.7" cy="94.4" r="0.70" fill="#ff4a38" opacity="0.90"/><circle cx="349.6" cy="105.4" r="0.88" fill="#ff4a38" opacity="0.77"/><circle cx="344.7" cy="92.7" r="0.94" fill="#ff4a38" opacity="0.70"/><circle cx="354.8" cy="96.0" r="0.92" fill="#ff4a38" opacity="0.88"/><circle cx="344.0" cy="96.4" r="0.78" fill="#ff4a38" opacity="0.96"/><circle cx="337.4" cy="90.6" r="0.62" fill="#ff4a38" opacity="0.71"/><circle cx="340.0" cy="95.7" r="0.71" fill="#ff4a38" opacity="0.72"/><circle cx="335.3" cy="95.2" r="0.92" fill="#ff4a38" opacity="0.82"/><circle cx="342.2" cy="83.7" r="0.47" fill="#ff4a38" opacity="0.95"/><circle cx="342.3" cy="95.7" r="0.82" fill="#ff4a38" opacity="0.89"/><circle cx="331.5" cy="85.7" r="0.81" fill="#ff4a38" opacity="0.74"/><circle cx="339.1" cy="95.4" r="0.51" fill="#ff4a38" opacity="0.57"/><circle cx="616.4" cy="83.2" r="0.62" fill="#ff4a38" opacity="0.74"/><circle cx="599.6" cy="107.0" r="0.70" fill="#ff4a38" opacity="0.63"/><circle cx="609.0" cy="82.8" r="0.47" fill="#ff4a38" opacity="0.76"/><circle cx="603.8" cy="102.8" r="0.63" fill="#ff4a38" opacity="0.68"/><circle cx="597.4" cy="105.8" r="0.70" fill="#ff4a38" opacity="0.77"/><circle cx="591.3" cy="95.9" r="0.92" fill="#ff4a38" opacity="0.75"/><circle cx="597.6" cy="85.3" r="0.76" fill="#ff4a38" opacity="0.82"/><circle cx="597.6" cy="89.4" r="0.55" fill="#ff4a38" opacity="0.74"/><circle cx="599.4" cy="98.2" r="0.79" fill="#ff4a38" opacity="0.70"/><circle cx="598.5" cy="99.0" r="0.46" fill="#ff4a38" opacity="0.85"/><circle cx="594.3" cy="105.0" r="0.79" fill="#ff4a38" opacity="0.96"/><circle cx="594.5" cy="96.2" r="0.94" fill="#ff4a38" opacity="0.63"/><circle cx="585.4" cy="101.3" r="0.59" fill="#ff4a38" opacity="0.95"/><circle cx="585.0" cy="99.7" r="0.52" fill="#ff4a38" opacity="0.92"/><circle cx="598.6" cy="105.5" r="0.82" fill="#ff4a38" opacity="0.69"/><circle cx="599.5" cy="102.3" r="0.94" fill="#ff4a38" opacity="0.85"/><circle cx="587.6" cy="105.3" r="0.78" fill="#ff4a38" opacity="0.67"/><circle cx="602.3" cy="96.8" r="0.74" fill="#ff4a38" opacity="0.82"/><circle cx="609.5" cy="90.3" r="0.88" fill="#ff4a38" opacity="0.99"/><circle cx="589.0" cy="103.3" r="0.69" fill="#ff4a38" opacity="0.72"/><circle cx="595.5" cy="91.9" r="0.51" fill="#ff4a38" opacity="0.98"/><circle cx="583.1" cy="105.0" r="0.72" fill="#ff4a38" opacity="0.81"/><circle cx="593.6" cy="99.2" r="0.52" fill="#ff4a38" opacity="0.88"/><circle cx="596.4" cy="101.4" r="0.86" fill="#ff4a38" opacity="0.89"/><circle cx="596.3" cy="93.3" r="0.52" fill="#ff4a38" opacity="0.89"/>
<path d="M370.2,82.3 C370.2,79.8 379.1,85.3 385.0,86.0 C390.9,86.7 398.6,87.6 405.6,86.5 C412.6,85.4 421.1,81.5 427.0,79.5 C432.9,77.5 436.6,76.8 441.0,74.8 C445.4,72.8 449.5,70.4 453.3,67.8 C457.1,65.2 460.7,62.6 463.8,59.1 C466.9,55.6 469.6,50.9 471.7,46.8 C473.8,42.7 475.1,39.3 476.1,34.5 C477.1,29.7 476.9,19.2 477.6,18.0 C478.3,16.8 479.0,23.6 480.4,27.5 C481.8,31.4 483.9,37.4 485.7,41.5 C487.5,45.6 489.1,48.6 491.0,52.0 C492.9,55.4 494.6,58.6 497.1,61.7 C499.6,64.8 502.3,67.8 505.8,70.4 C509.3,73.0 513.7,75.7 518.1,77.5 C522.5,79.3 525.1,79.3 532.1,81.0 C539.1,82.7 551.1,85.5 560.0,87.5 C568.9,89.5 583.9,88.3 585.6,92.9 C587.3,97.5 575.8,107.4 570.0,115.0 C564.2,122.6 556.6,135.2 550.9,138.5 C545.2,141.8 540.8,136.3 536.0,135.0 C531.2,133.7 525.8,131.7 522.0,130.4 C518.2,129.2 515.0,129.6 513.0,127.5 C511.0,125.4 512.2,120.2 510.0,118.0 C507.8,115.8 502.8,115.0 500.0,114.0 C497.2,113.0 496.3,112.9 493.0,112.0 C489.7,111.1 484.5,108.5 480.3,108.5 C476.1,108.5 471.1,111.1 468.0,112.0 C464.9,112.9 464.7,113.0 462.0,114.0 C459.3,115.0 454.3,115.8 452.0,118.0 C449.7,120.2 451.3,124.7 448.0,127.0 C444.7,129.3 437.9,130.3 432.0,132.0 C426.1,133.7 418.2,139.3 412.5,137.0 C406.8,134.7 402.6,124.0 398.0,118.0 C393.4,112.0 389.6,107.0 385.0,101.0 C380.4,95.0 370.2,84.8 370.2,82.3 Z" fill="#9aa52c" filter="url(#b2)"/>
<path d="M378.0,87.0 C376.3,83.3 385.0,89.7 392.0,90.0 C399.0,90.3 411.2,90.5 420.0,89.0 C428.8,87.5 438.3,83.5 445.0,81.0 C451.7,78.5 455.8,73.8 460.0,74.0 C464.2,74.2 466.7,79.7 470.0,82.0 C473.3,84.3 476.3,88.7 480.0,88.0 C483.7,87.3 487.5,79.3 492.0,78.0 C496.5,76.7 500.7,78.0 507.0,80.0 C513.3,82.0 519.5,87.2 530.0,90.0 C540.5,92.8 565.7,92.3 570.0,97.0 C574.3,101.7 560.2,112.2 556.0,118.0 C551.8,123.8 549.7,130.7 545.0,132.0 C540.3,133.3 533.5,129.3 528.0,126.0 C522.5,122.7 517.2,115.3 512.0,112.0 C506.8,108.7 502.3,107.3 497.0,106.0 C491.7,104.7 485.6,104.0 480.3,104.0 C475.0,104.0 470.4,104.7 465.0,106.0 C459.6,107.3 453.8,108.7 448.0,112.0 C442.2,115.3 435.5,123.0 430.0,126.0 C424.5,129.0 419.7,132.3 415.0,130.0 C410.3,127.7 408.2,119.2 402.0,112.0 C395.8,104.8 379.7,90.7 378.0,87.0 Z" fill="#d2d436" filter="url(#b2)" opacity="0.95"/>
<ellipse cx="520" cy="100" rx="38" ry="14" fill="#dede3a" opacity="0.65" filter="url(#b4)" transform="rotate(14 520 100)"/>
<ellipse cx="425" cy="108" rx="22" ry="16" fill="#d0c636" opacity="0.6" filter="url(#b4)"/>
<path d="M477.5,24.0 C475.9,24.2 476.4,38.7 474.5,45.0 C472.6,51.3 466.8,56.2 466.0,62.0 C465.2,67.8 467.7,75.7 470.0,80.0 C472.3,84.3 476.7,88.3 480.0,88.0 C483.3,87.7 487.8,82.3 490.0,78.0 C492.2,73.7 494.0,67.7 493.0,62.0 C492.0,56.3 486.6,50.3 484.0,44.0 C481.4,37.7 479.1,23.8 477.5,24.0 Z" fill="#6f8c2c" opacity="0.75" filter="url(#b2)"/>
<path d="M477.0,40.0 C473.7,40.0 472.5,54.7 470.0,62.0 C467.5,69.3 462.3,77.0 462.0,84.0 C461.7,91.0 465.0,100.0 468.0,104.0 C471.0,108.0 476.0,108.0 480.0,108.0 C484.0,108.0 489.0,108.0 492.0,104.0 C495.0,100.0 498.3,91.0 498.0,84.0 C497.7,77.0 493.5,69.3 490.0,62.0 C486.5,54.7 480.3,40.0 477.0,40.0 Z" fill="#93b534" opacity="0.75" filter="url(#b4)"/>
<clipPath id="cvta"><path d="M370.2,82.3 C370.2,79.8 379.1,85.3 385.0,86.0 C390.9,86.7 398.6,87.6 405.6,86.5 C412.6,85.4 421.1,81.5 427.0,79.5 C432.9,77.5 436.6,76.8 441.0,74.8 C445.4,72.8 449.5,70.4 453.3,67.8 C457.1,65.2 460.7,62.6 463.8,59.1 C466.9,55.6 469.6,50.9 471.7,46.8 C473.8,42.7 475.1,39.3 476.1,34.5 C477.1,29.7 476.9,19.2 477.6,18.0 C478.3,16.8 479.0,23.6 480.4,27.5 C481.8,31.4 483.9,37.4 485.7,41.5 C487.5,45.6 489.1,48.6 491.0,52.0 C492.9,55.4 494.6,58.6 497.1,61.7 C499.6,64.8 502.3,67.8 505.8,70.4 C509.3,73.0 513.7,75.7 518.1,77.5 C522.5,79.3 525.1,79.3 532.1,81.0 C539.1,82.7 551.1,85.5 560.0,87.5 C568.9,89.5 583.9,88.3 585.6,92.9 C587.3,97.5 575.8,107.4 570.0,115.0 C564.2,122.6 556.6,135.2 550.9,138.5 C545.2,141.8 540.8,136.3 536.0,135.0 C531.2,133.7 525.8,131.7 522.0,130.4 C518.2,129.2 515.0,129.6 513.0,127.5 C511.0,125.4 512.2,120.2 510.0,118.0 C507.8,115.8 502.8,115.0 500.0,114.0 C497.2,113.0 496.3,112.9 493.0,112.0 C489.7,111.1 484.5,108.5 480.3,108.5 C476.1,108.5 471.1,111.1 468.0,112.0 C464.9,112.9 464.7,113.0 462.0,114.0 C459.3,115.0 454.3,115.8 452.0,118.0 C449.7,120.2 451.3,124.7 448.0,127.0 C444.7,129.3 437.9,130.3 432.0,132.0 C426.1,133.7 418.2,139.3 412.5,137.0 C406.8,134.7 402.6,124.0 398.0,118.0 C393.4,112.0 389.6,107.0 385.0,101.0 C380.4,95.0 370.2,84.8 370.2,82.3 Z"/></clipPath>
<g clip-path="url(#cvta)"><rect x="340" y="-60" width="280" height="280" filter="url(#fib)" opacity="0.3" transform="rotate(78 480 80)"/><rect x="340" y="-60" width="280" height="280" filter="url(#fibw)" opacity="0.14" transform="rotate(100 480 80)" style="mix-blend-mode:screen"/></g>
<line x1="424" y1="65" x2="419" y2="79" stroke="#1a1a08" stroke-width="2" stroke-linecap="round" opacity="0.8"/>
<line x1="401" y1="92" x2="403" y2="110" stroke="#1a1a08" stroke-width="1.8" stroke-linecap="round" opacity="0.8"/>
<line x1="423" y1="104" x2="424" y2="118" stroke="#1a1a08" stroke-width="1.4" stroke-linecap="round" opacity="0.8"/>
<line x1="381" y1="128" x2="378" y2="140" stroke="#1a1a08" stroke-width="1.6" stroke-linecap="round" opacity="0.8"/>
<line x1="500" y1="103" x2="505" y2="122" stroke="#1a1a08" stroke-width="2.2" stroke-linecap="round" opacity="0.8"/>
<line x1="527" y1="100" x2="533" y2="118" stroke="#1a1a08" stroke-width="1.8" stroke-linecap="round" opacity="0.8"/>
<line x1="466" y1="80" x2="468" y2="100" stroke="#1a1a08" stroke-width="1.5" stroke-linecap="round" opacity="0.8"/>
<line x1="488" y1="84" x2="492" y2="100" stroke="#1a1a08" stroke-width="1.4" stroke-linecap="round" opacity="0.8"/>
<line x1="546" y1="50" x2="558" y2="58" stroke="#1a1a08" stroke-width="1.8" stroke-linecap="round" opacity="0.8"/>
<path d="M395.0,156.0 C367.7,154.3 403.0,148.1 408.0,146.0 C413.0,143.9 419.7,144.5 425.0,143.5 C430.3,142.5 436.0,141.4 440.0,140.0 C444.0,138.6 446.2,136.2 449.0,135.0 C451.8,133.8 454.5,134.0 457.0,133.0 C459.5,132.0 462.0,131.0 464.0,129.0 C466.0,127.0 467.3,123.2 469.0,121.0 C470.7,118.8 472.2,116.8 474.0,115.5 C475.8,114.2 478.0,113.0 480.0,113.0 C482.0,113.0 484.0,114.2 486.0,115.5 C488.0,116.8 490.0,118.9 492.0,121.0 C494.0,123.1 495.7,126.1 498.0,128.0 C500.3,129.9 503.3,131.7 506.0,132.5 C508.7,133.3 510.2,132.2 514.0,133.0 C517.8,133.8 523.3,135.8 528.5,137.5 C533.7,139.2 540.1,141.8 545.0,143.0 C549.9,144.2 553.5,142.8 558.0,145.0 C562.5,147.2 599.2,154.2 572.0,156.0 C544.8,157.8 422.3,157.7 395.0,156.0 Z" fill="#0c0805"/>
<rect x="249.0" y="15.2" width="423.70000000000005" height="134.8" filter="url(#nz)" opacity="0.55"/>
<path d="M370.2,82.3 C372.7,82.9 379.1,85.3 385.0,86.0 C390.9,86.7 398.6,87.6 405.6,86.5 C412.6,85.4 421.1,81.5 427.0,79.5 C432.9,77.5 436.6,76.8 441.0,74.8 C445.4,72.8 449.5,70.4 453.3,67.8 C457.1,65.2 460.7,62.6 463.8,59.1 C466.9,55.6 469.6,50.9 471.7,46.8 C473.8,42.7 475.1,39.5 476.1,34.5 C477.1,29.5 477.4,19.6 477.6,16.6" fill="none" stroke="#fff" stroke-width="2.4" stroke-dasharray="7.6 4.2" stroke-linejoin="round"/>
<path d="M477.6,16.6 C478.1,18.4 479.0,23.4 480.4,27.5 C481.8,31.6 483.9,37.4 485.7,41.5 C487.5,45.6 489.1,48.6 491.0,52.0 C492.9,55.4 494.6,58.6 497.1,61.7 C499.6,64.8 502.3,67.8 505.8,70.4 C509.3,73.0 513.7,75.7 518.1,77.5 C522.5,79.3 525.1,79.3 532.1,81.0 C539.1,82.7 551.1,85.5 560.0,87.5 C568.9,89.5 581.3,92.0 585.6,92.9" fill="none" stroke="#fff" stroke-width="2.4" stroke-dasharray="7.6 4.2" stroke-linejoin="round"/>
<path d="M585.6,92.9 L550.9,138.5 L522,130.4 L513.5,127.5" fill="none" stroke="#fff" stroke-width="2.4" stroke-dasharray="7.6 4.2" stroke-linejoin="round"/>
<path d="M370.2,82.3 L412.5,137 L449.5,126.5" fill="none" stroke="#fff" stroke-width="2.4" stroke-dasharray="7.6 4.2" stroke-linejoin="round"/>
<path d="M465,115 C470,111 475,109.5 480.3,109.5 C486,109.5 492,112 497,115.5" fill="none" stroke="#fff" stroke-width="2.4" stroke-dasharray="7.6 4.2" stroke-linejoin="round"/>
<circle cx="457.3" cy="122.8" r="7.4" fill="#4a3c14"/>
<path d="M454.7,115.3 A8,8 0 0 0 454.7,130.3" fill="none" stroke="#fff" stroke-width="2.2"/>
<path d="M459.90000000000003,115.3 A8,8 0 0 1 459.90000000000003,130.3" fill="none" stroke="#fff" stroke-width="2.2"/>
<text x="457.3" y="126.8" font-size="12" text-anchor="middle" font-weight="normal" font-style="normal" fill="#fff" >fr</text>
<circle cx="505.4" cy="122.8" r="7.4" fill="#4a3c14"/>
<path d="M502.79999999999995,115.3 A8,8 0 0 0 502.79999999999995,130.3" fill="none" stroke="#fff" stroke-width="2.2"/>
<path d="M508.0,115.3 A8,8 0 0 1 508.0,130.3" fill="none" stroke="#fff" stroke-width="2.2"/>
<text x="505.4" y="126.8" font-size="12" text-anchor="middle" font-weight="normal" font-style="normal" fill="#fff" >fr</text>
<text x="480.2" y="87.2" font-size="14.2" text-anchor="middle" font-weight="normal" font-style="normal" fill="#fff" >VTA</text>
<text x="260.6" y="30.2" font-size="14.9" text-anchor="start" font-weight="normal" font-style="normal" fill="#56c450" >hM3D</text>
<text x="260.6" y="44.8" font-size="14.6" text-anchor="start" font-weight="normal" font-style="normal" fill="#dc352c" >TH</text></g>
<defs><clipPath id="cs0"><rect x="249.4" y="153.4" width="101.6" height="86.29999999999998"/></clipPath><clipPath id="cs1"><rect x="356.6" y="153.4" width="101.6" height="86.29999999999998"/></clipPath><clipPath id="cs2"><rect x="463.7" y="153.4" width="101.6" height="86.29999999999998"/></clipPath><clipPath id="cs3"><rect x="570.8" y="153.4" width="101.6" height="86.29999999999998"/></clipPath><linearGradient id="gd" x1="0" y1="0" x2="1" y2="1"><stop offset="0" stop-color="#2c6c96"/><stop offset="0.5" stop-color="#24618a"/><stop offset="1" stop-color="#15405f"/></linearGradient></defs>
<g clip-path="url(#cs0)"><rect x="249.40" y="153.40" width="101.60" height="86.30" fill="#143f64" stroke="none" stroke-width="0" /><ellipse cx="307.4" cy="183.4" rx="40" ry="26" fill="#235c88" opacity="0.8" filter="url(#b8)"/><ellipse cx="257.4" cy="231.7" rx="30" ry="26" fill="#0f3556" opacity="0.8" filter="url(#b8)"/><ellipse cx="347.0" cy="233.7" rx="22" ry="20" fill="#0f3556" opacity="0.8" filter="url(#b8)"/><rect x="249.4" y="153.4" width="101.6" height="86.29999999999998" filter="url(#nzw)" opacity="0.2" style="mix-blend-mode:screen"/><rect x="249.4" y="153.4" width="101.6" height="86.29999999999998" filter="url(#nz)" opacity="0.3"/><text x="252.7" y="165.2" font-size="11.7" text-anchor="start" font-weight="normal" font-style="normal" fill="#4fb4d6" >DAPI</text></g>
<g clip-path="url(#cs1)"><rect x="356.60" y="153.40" width="101.60" height="86.30" fill="#650e14" stroke="none" stroke-width="0" /><path d="M350.6,172.4 L396.6,170.4 L464.20000000000005,162.4 L464.20000000000005,245.7 L407.6,245.7 L378.6,207.4 L350.6,178.4 Z" fill="#aa1f27" filter="url(#b4)"/><path d="M392.6,197.4 L430.6,187.4 L460.20000000000005,189.4 L460.20000000000005,225.7 L440.20000000000005,241.7 L418.6,241.7 L398.6,213.4 Z" fill="#e02a32" opacity="0.85" filter="url(#b8)"/><path d="M348.6,180.4 L378.6,209.4 L406.6,247.7 L348.6,247.7 Z" fill="#35050a" filter="url(#b2)"/><path d="M444.20000000000005,244.7 L463.20000000000005,223.7 L463.20000000000005,244.7 Z" fill="#560a10" filter="url(#b4)"/><rect x="316.6" y="113.4" width="181.6" height="166.29999999999998" filter="url(#fib)" opacity="0.22" transform="rotate(38 407.40000000000003 196.55)"/><rect x="316.6" y="113.4" width="181.6" height="166.29999999999998" filter="url(#fibw)" opacity="0.1" transform="rotate(38 407.40000000000003 196.55)" style="mix-blend-mode:screen"/><rect x="356.6" y="153.4" width="101.6" height="86.29999999999998" filter="url(#nz)" opacity="0.4"/><text x="360.2" y="165.2" font-size="11.7" text-anchor="start" font-weight="normal" font-style="normal" fill="#e8403a" >TH</text></g>
<g clip-path="url(#cs2)"><rect x="463.70" y="153.40" width="101.60" height="86.30" fill="#196628" stroke="none" stroke-width="0" /><path d="M457.7,172.4 L503.7,170.4 L571.3,162.4 L571.3,245.7 L514.7,245.7 L485.7,207.4 L457.7,178.4 Z" fill="#309a3c" filter="url(#b4)"/><path d="M499.7,197.4 L537.7,187.4 L567.3,189.4 L567.3,225.7 L547.3,241.7 L525.7,241.7 L505.7,213.4 Z" fill="#52cf56" opacity="0.85" filter="url(#b8)"/><path d="M455.7,180.4 L485.7,209.4 L513.7,247.7 L455.7,247.7 Z" fill="#104a1a" filter="url(#b2)"/><path d="M551.3,244.7 L570.3,223.7 L570.3,244.7 Z" fill="#13541e" filter="url(#b4)"/><rect x="423.7" y="113.4" width="181.6" height="166.29999999999998" filter="url(#fib)" opacity="0.22" transform="rotate(38 514.5 196.55)"/><rect x="423.7" y="113.4" width="181.6" height="166.29999999999998" filter="url(#fibw)" opacity="0.1" transform="rotate(38 514.5 196.55)" style="mix-blend-mode:screen"/><rect x="463.7" y="153.4" width="101.6" height="86.29999999999998" filter="url(#nz)" opacity="0.4"/><text x="467.3" y="165.2" font-size="11.7" text-anchor="start" font-weight="normal" font-style="normal" fill="#5ccb4e" >hM3D</text></g>
<g clip-path="url(#cs3)"><rect x="570.80" y="153.40" width="101.60" height="86.30" fill="#4d9686" stroke="none" stroke-width="0" /><path d="M564.8,172.4 L610.8,170.4 L678.4,162.4 L678.4,245.7 L621.8,245.7 L592.8,207.4 L564.8,178.4 Z" fill="#8fc48c" filter="url(#b4)"/><path d="M606.8,197.4 L644.8,187.4 L674.4,189.4 L674.4,225.7 L654.4,241.7 L632.8,241.7 L612.8,213.4 Z" fill="#d6e290" opacity="0.85" filter="url(#b8)"/><path d="M562.8,180.4 L592.8,209.4 L620.8,247.7 L562.8,247.7 Z" fill="#35806f" filter="url(#b2)"/><path d="M658.4,244.7 L677.4,223.7 L677.4,244.7 Z" fill="#32805a" filter="url(#b4)"/><rect x="530.8" y="113.4" width="181.6" height="166.29999999999998" filter="url(#fib)" opacity="0.22" transform="rotate(38 621.5999999999999 196.55)"/><rect x="530.8" y="113.4" width="181.6" height="166.29999999999998" filter="url(#fibw)" opacity="0.1" transform="rotate(38 621.5999999999999 196.55)" style="mix-blend-mode:screen"/><rect x="570.8" y="153.4" width="101.6" height="86.29999999999998" filter="url(#nz)" opacity="0.4"/><text x="574.4" y="165.2" font-size="11.7" text-anchor="start" font-weight="normal" font-style="normal" fill="#ffffff" >Combined</text></g>
<text x="3.6" y="11.6" font-size="17.5" text-anchor="start" font-weight="bold" font-style="normal" fill="#111" >a</text>
<text x="28.3" y="26.1" font-size="11.6" text-anchor="start" font-weight="normal" font-style="normal" fill="#62c452" >AAV5-DIO-hM3D</text>
<path d="M65.3,73.5 C58,70 52,60 44,54.5 C36,50.5 27.5,55 28.5,63 C30,72 40,76 50,79.6 C57,82 62,82.5 66.8,83.8 C72,85.5 74,87.5 78,88 C81,88.5 81.5,90 83.6,90.5 C88,92 90,95 93.6,96.4 C100,99 104,99.2 108.8,98.9 C114,98.5 118,97.5 119.7,95.5 C121.5,93.5 122.3,91.5 122.2,89.7" fill="none" stroke="#1a1a1a" stroke-width="1.15" stroke-linecap="round" stroke-linejoin="round"/>
<path d="M52.9,55.4 C54,50 60,45 70,41 C82,36.5 98,34 112,33.6 C124,33.3 134,35 140.3,39.4 C138.5,42.5 136,44.5 133.6,46.2 C130.5,48.4 127.5,50.5 125.2,52" fill="none" stroke="#1a1a1a" stroke-width="1.15" stroke-linecap="round" stroke-linejoin="round"/>
<path d="M86,92.5 C89,95.5 92,97 96,98.3 L95,96.8 C92,96 89,94.5 86,92.5 Z" fill="#111"/>
<path d="M125.5,51.5 C129,48.5 133,48.5 135,50.5 C136.5,52.5 137.5,54.5 139,54.2 C142,52 144.5,49 146.2,47 C145,44.5 146.5,42.5 148.7,42 C156,40 165,39.8 172.2,41.1 C176.5,42.2 179,44.2 180.6,47 C183.5,52.5 185.2,58 184.8,63.8 C184.6,68.5 183.8,73 183.1,77.2 C184.5,80.5 190,83 196.5,84.8" fill="none" stroke="#1a1a1a" stroke-width="1.15" stroke-linecap="round" stroke-linejoin="round"/>
<path d="M146.2,47 C144.5,51 142.5,56.5 141.5,60.5" fill="none" stroke="#1a1a1a" stroke-width="1.15" stroke-linecap="round" stroke-linejoin="round"/>
<path d="M142.3,58.5 C139.5,61.5 137.2,64.5 136.0,66.8 C137.5,70.5 141,75 146.5,77.6 C150.5,79.4 155,79.5 158.5,78.2 C159.5,76.5 159.6,74.5 160,72.6 C160.8,74.5 161.2,76.5 162.2,77.5 C164.8,78.3 168.2,79.6 171,81.2 L170.2,82.2 C167,80.6 163.5,79.6 160.8,79.4 C157.5,81 152,81 148,79.8 C144.5,77.5 142,73.5 140.8,69.5 C140.6,66 141.3,62 142.3,58.5 Z" fill="#111" stroke="#111" stroke-width="0.6" stroke-linejoin="round"/>
<path d="M122.2,89.7 C124,91.5 126.5,92.3 128.9,92.2 C127.5,92.5 126.5,93.2 126.6,94.2 C128.5,97.5 132.5,100.5 137,101.5 C143,103 150,103.6 156,103.2 C161,102.8 166,101.5 170.5,101.6 C175.5,101.8 180,102.5 183.9,103.8 C188.5,105.5 193,107.5 196.5,109.8" fill="none" stroke="#1a1a1a" stroke-width="1.15" stroke-linecap="round" stroke-linejoin="round"/>
<path d="M82.2,67.2 C79.6,64.5 79.5,60.5 82.5,57.8 C90,52.5 104,48.5 119.8,46.8 L120.2,49 C106,50.8 93,54 86.5,58.2 C84,60.5 83.5,63.5 84.2,66.8 Z" fill="#111" stroke="#111" stroke-width="0.8" stroke-linejoin="round"/>
<path d="M96.8,62.5 C97.5,60.5 98.3,59.3 99.5,58.3 C105,56.5 112,55.2 118.8,54.3 M104.8,55 C106,56 107,57 107.6,56.3" fill="none" stroke="#1a1a1a" stroke-width="1.15" stroke-linecap="round" stroke-linejoin="round" />
<path d="M113.8,57 C115,56.2 116.8,56 118.5,56.2 C117.3,57.5 116.2,59 116.3,60.8 C116.6,62.5 118,63.8 119.6,64.6 C120.3,65.6 120.2,66.8 119.6,67.4 C117.8,67 116,65.8 115.2,64.2 C114.4,62.2 115,59.5 113.8,57 Z" fill="#111" stroke="#111" stroke-width="0.5"/>
<ellipse cx="92" cy="78.7" rx="1.7" ry="2.5" fill="#111" transform="rotate(20 92 78.7)"/>
<rect x="119.40" y="1.30" width="6.60" height="1.60" fill="#111" stroke="none" stroke-width="0" />
<rect x="121.60" y="2.60" width="2.20" height="2.20" fill="#111" stroke="none" stroke-width="0" />
<rect x="116.60" y="4.40" width="12.00" height="3.20" fill="#111" stroke="none" stroke-width="0" />
<rect x="119.20" y="7.60" width="6.90" height="24.40" fill="#fff" stroke="#222" stroke-width="1.1" />
<rect x="119.80" y="15.80" width="5.70" height="15.70" fill="#5fc24e" stroke="none" stroke-width="0" />
<line x1="122.3" y1="32.2" x2="122.3" y2="83.5" stroke="#3a3a3a" stroke-width="1.9" />
<line x1="122.3" y1="32.6" x2="122.3" y2="83.3" stroke="#d8d8d8" stroke-width="0.6" />
<circle cx="122.2" cy="85.4" r="2.0" fill="#e0251c" stroke="#5a1510" stroke-width="0.8"/>
<text x="129.3" y="88.3" font-size="11.6" text-anchor="start" font-weight="normal" font-style="normal" fill="#0a0a0a" >VTA</text>
<text x="114.6" y="114.3" font-size="12.0" text-anchor="middle" font-weight="normal" font-style="italic" fill="#0a0a0a" >TH::Cre+</text>
<defs><filter id="bl1" x="-20%" y="-20%" width="140%" height="140%"><feGaussianBlur stdDeviation="1.1"/></filter><linearGradient id="gw1" x1="0" x2="1"><stop offset="0" stop-color="#93cb95"/><stop offset="0.25" stop-color="#78ba7b"/><stop offset="0.5" stop-color="#5eab62"/><stop offset="1" stop-color="#5aa85f"/></linearGradient><radialGradient id="gw2" cx="0.5" cy="0.5" r="0.6"><stop offset="0" stop-color="#60b268"/><stop offset="0.6" stop-color="#64b46b"/><stop offset="1" stop-color="#86c98a"/></radialGradient><radialGradient id="gw3" cx="0.5" cy="0.5" r="0.6"><stop offset="0" stop-color="#6ab872"/><stop offset="0.45" stop-color="#70ba76"/><stop offset="0.85" stop-color="#a2d5a3"/><stop offset="1" stop-color="#b4dcb4"/></radialGradient></defs>
<text x="0.2" y="142.2" font-size="17.5" text-anchor="start" font-weight="bold" font-style="normal" fill="#111" >b</text>
<text transform="translate(26.2,169.4) rotate(-90)" font-size="12.4" text-anchor="middle" fill="#0a0a0a">-5.20mm</text>
<text transform="translate(26.2,247.3) rotate(-90)" font-size="12.4" text-anchor="middle" fill="#0a0a0a">-5.76mm</text>
<text transform="translate(26.2,332.9) rotate(-90)" font-size="12.4" text-anchor="middle" fill="#0a0a0a">-6.24mm</text>
<path d="M118.0,124.3 C117.5,124.5 115.9,124.8 115.2,125.8 C114.5,126.8 114.2,128.3 113.6,130.0 C113.0,131.7 112.4,133.8 111.6,136.0 C110.8,138.2 109.7,141.2 108.5,143.5 C107.3,145.8 105.9,148.0 104.5,150.0 C103.1,152.0 101.4,153.8 100.0,155.5 C98.6,157.2 96.2,157.2 96.0,160.0 C95.8,162.8 99.3,168.5 99.0,172.0 C98.7,175.5 96.2,178.0 94.0,181.0 C91.8,184.0 88.7,187.1 86.0,190.0 C83.3,192.9 78.0,197.3 78.0,198.5 C78.0,199.7 83.0,197.9 86.0,197.0 C89.0,196.1 93.5,194.0 96.0,193.0 C98.5,192.0 99.2,192.0 101.0,191.0 C102.8,190.0 105.1,188.2 107.0,187.0 C108.9,185.8 110.8,184.7 112.6,184.0 C114.4,183.3 116.2,183.0 118.0,183.0 C119.8,183.0 121.6,183.3 123.4,184.0 C125.2,184.7 127.1,185.8 129.0,187.0 C130.9,188.2 133.2,190.0 135.0,191.0 C136.8,192.0 137.5,192.0 140.0,193.0 C142.5,194.0 147.0,196.1 150.0,197.0 C153.0,197.9 158.0,199.7 158.0,198.5 C158.0,197.3 152.7,192.9 150.0,190.0 C147.3,187.1 144.2,184.0 142.0,181.0 C139.8,178.0 137.3,175.5 137.0,172.0 C136.7,168.5 140.2,162.8 140.0,160.0 C139.8,157.2 137.4,157.2 136.0,155.5 C134.6,153.8 132.9,152.0 131.5,150.0 C130.1,148.0 128.7,145.8 127.5,143.5 C126.3,141.2 125.2,138.2 124.4,136.0 C123.6,133.8 123.0,131.7 122.4,130.0 C121.8,128.3 121.5,126.8 120.8,125.8 C120.1,124.8 118.5,124.5 118.0,124.3 C117.5,124.0 118.5,124.0 118.0,124.3 Z" fill="#74d077" filter="url(#bl1)"/>
<path d="M118.0,123.0 C116.8,123.0 115.5,124.2 114.5,126.0 C113.5,127.8 111.4,131.3 112.0,134.0 C112.6,136.7 116.0,142.0 118.0,142.0 C120.0,142.0 123.4,136.7 124.0,134.0 C124.6,131.3 122.5,127.8 121.5,126.0 C120.5,124.2 119.2,123.0 118.0,123.0 Z" fill="#8adb8b" opacity="0.6" filter="url(#bl1)"/>
<path d="M38.0,156.0 C39.2,155.9 46.3,158.7 52.0,160.5 C57.7,162.3 70.7,166.1 72.0,167.0 C73.3,167.9 64.5,167.0 60.0,166.0 C55.5,165.0 48.7,162.7 45.0,161.0 C41.3,159.3 36.8,156.1 38.0,156.0 Z" fill="#bfe8bd" opacity="0.8" filter="url(#bl1)"/><path d="M79.0,198.5 C80.3,197.4 85.0,196.6 88.0,195.5 C91.0,194.4 94.8,192.8 97.0,192.0 C99.2,191.2 101.2,189.8 101.0,190.5 C100.8,191.2 98.2,194.8 96.0,196.5 C93.8,198.2 90.7,199.6 88.0,200.5 C85.3,201.4 81.5,202.3 80.0,202.0 C78.5,201.7 77.7,199.6 79.0,198.5 Z" fill="#cfeccb" stroke="none"/><path d="M41.1,158.2 C42.1,158.3 47.6,160.4 51.0,161.5 C54.4,162.6 58.5,163.6 61.5,164.5 C64.5,165.4 67.0,166.4 69.0,167.0 C71.0,167.6 71.6,168.6 73.4,168.3 C75.2,168.0 77.2,166.4 80.0,165.0 C82.8,163.6 87.1,161.5 90.0,160.0 C92.9,158.5 95.6,156.9 97.5,156.2 C99.4,155.5 100.3,155.4 101.3,155.8 C102.2,156.2 103.0,157.3 103.2,158.5 C103.4,159.7 102.8,161.4 102.4,163.0 C102.0,164.6 101.5,166.4 100.9,168.2 C100.3,170.0 99.7,172.3 99.0,174.0 C98.3,175.7 98.0,176.4 96.5,178.4 C95.0,180.4 92.1,183.7 90.0,186.0 C87.9,188.3 85.8,190.6 84.0,192.5 C82.2,194.4 80.2,197.7 79.0,197.6 C77.8,197.5 77.2,193.7 76.5,192.0 C75.8,190.3 75.7,188.9 74.6,187.2 C73.5,185.5 71.7,183.7 70.0,182.0 C68.3,180.3 66.4,178.7 64.4,176.9 C62.4,175.1 60.2,172.9 58.0,171.0 C55.8,169.1 53.5,167.0 51.3,165.3 C49.1,163.6 46.7,162.0 45.0,160.8 C43.3,159.6 40.1,158.1 41.1,158.2 Z" fill="url(#gw1)" stroke="#111" stroke-width="1.7" stroke-linejoin="round"/><ellipse cx="104.2" cy="175.6" rx="4.0" ry="9.4" fill="#d6f0d2" stroke="#161616" stroke-width="1.2"/><path d="M112.6,182.6 C112.9,177 113.4,172.5 114.2,170.2 C115,168.8 116.5,168.6 118,168.6" fill="none" stroke="#161616" stroke-width="1.1" stroke-linecap="round" stroke-linejoin="round"/><path d="M79.0,197.6 C80.2,197.2 83.2,196.2 86.0,195.2 C88.8,194.2 93.5,192.5 96.0,191.6 C98.5,190.7 99.1,190.8 100.9,189.8 C102.7,188.8 104.8,187.0 106.8,185.8 C108.8,184.6 110.7,183.5 112.6,182.8 C114.5,182.1 117.1,181.6 118.0,181.4" fill="none" stroke="#111" stroke-width="1.9" stroke-linecap="round" stroke-linejoin="round"/><path d="M76.3,203.0 C77.9,202.7 82.9,202.4 86.0,201.3 C89.1,200.2 92.5,198.4 95.0,196.5 C97.5,194.6 99.9,191.1 100.9,190.0" fill="none" stroke="#161616" stroke-width="1.1" stroke-linecap="round" stroke-linejoin="round"/><path d="M34.5,134.6 C36.4,134.6 42.2,133.9 46.0,134.6 C49.8,135.3 54.0,137.2 57.1,139.0 C60.2,140.8 62.5,143.3 64.5,145.5 C66.5,147.7 67.5,149.8 68.8,152.1 C70.0,154.3 71.1,156.6 72.0,159.0 C72.9,161.4 74.0,165.2 74.4,166.5" fill="none" stroke="#161616" stroke-width="1.1" stroke-linecap="round" stroke-linejoin="round"/><path d="M34.5,144.1 C36.8,145.4 43.0,148.7 48.0,152.0 C53.0,155.3 61.7,161.8 64.4,163.8" fill="none" stroke="#161616" stroke-width="1.1" stroke-linecap="round" stroke-linejoin="round"/><path d="M34.5,152.8 L41.1,158.2" fill="none" stroke="#161616" stroke-width="1.1" stroke-linecap="round" stroke-linejoin="round"/><path d="M34.5,160.9 C36.8,162.2 43.8,166.1 48.0,169.0 C52.2,171.9 57.0,175.6 60.0,178.4 C63.0,181.2 64.3,183.1 66.0,186.0 C67.7,188.9 69.6,194.2 70.3,195.9" fill="none" stroke="#222" stroke-width="0.9" stroke-dasharray="2.6 1.6"/><path d="M58.5,176.0 C59.8,177.6 64.0,182.3 66.0,185.5 C68.0,188.7 69.5,191.8 70.3,195.0 C71.1,198.2 70.5,203.3 70.6,205.0" fill="none" stroke="#161616" stroke-width="1.1" stroke-linecap="round" stroke-linejoin="round"/><path d="M64.4,176.9 C65.5,178.0 69.2,181.2 71.0,183.5 C72.8,185.8 74.3,188.1 75.3,190.5 C76.3,192.9 76.6,195.9 76.8,198.0 C77.0,200.1 76.3,202.3 76.2,203.2" fill="none" stroke="#161616" stroke-width="1.1" stroke-linecap="round" stroke-linejoin="round"/><path d="M34.5,195.9 C37.1,196.6 45.8,199.4 50.0,200.3 C54.2,201.2 56.4,201.3 60.0,201.6 C63.6,201.8 69.6,201.8 71.5,201.8" fill="none" stroke="#161616" stroke-width="1.1" stroke-linecap="round" stroke-linejoin="round"/><path d="M34.5,207.6 C37.1,208.1 45.0,210.2 50.0,210.8 C55.0,211.4 60.7,211.6 64.4,211.2 C68.1,210.8 70.0,209.8 72.0,208.5 C74.0,207.2 75.1,204.6 76.1,203.2 C77.1,201.8 77.5,200.9 78.0,200.0 C78.5,199.1 78.8,198.0 79.0,197.6" fill="none" stroke="#111" stroke-width="1.9" stroke-linecap="round" stroke-linejoin="round"/><g transform="translate(236.0,0) scale(-1,1)"><path d="M38.0,156.0 C39.2,155.9 46.3,158.7 52.0,160.5 C57.7,162.3 70.7,166.1 72.0,167.0 C73.3,167.9 64.5,167.0 60.0,166.0 C55.5,165.0 48.7,162.7 45.0,161.0 C41.3,159.3 36.8,156.1 38.0,156.0 Z" fill="#bfe8bd" opacity="0.8" filter="url(#bl1)"/><path d="M79.0,198.5 C80.3,197.4 85.0,196.6 88.0,195.5 C91.0,194.4 94.8,192.8 97.0,192.0 C99.2,191.2 101.2,189.8 101.0,190.5 C100.8,191.2 98.2,194.8 96.0,196.5 C93.8,198.2 90.7,199.6 88.0,200.5 C85.3,201.4 81.5,202.3 80.0,202.0 C78.5,201.7 77.7,199.6 79.0,198.5 Z" fill="#cfeccb" stroke="none"/><path d="M41.1,158.2 C42.1,158.3 47.6,160.4 51.0,161.5 C54.4,162.6 58.5,163.6 61.5,164.5 C64.5,165.4 67.0,166.4 69.0,167.0 C71.0,167.6 71.6,168.6 73.4,168.3 C75.2,168.0 77.2,166.4 80.0,165.0 C82.8,163.6 87.1,161.5 90.0,160.0 C92.9,158.5 95.6,156.9 97.5,156.2 C99.4,155.5 100.3,155.4 101.3,155.8 C102.2,156.2 103.0,157.3 103.2,158.5 C103.4,159.7 102.8,161.4 102.4,163.0 C102.0,164.6 101.5,166.4 100.9,168.2 C100.3,170.0 99.7,172.3 99.0,174.0 C98.3,175.7 98.0,176.4 96.5,178.4 C95.0,180.4 92.1,183.7 90.0,186.0 C87.9,188.3 85.8,190.6 84.0,192.5 C82.2,194.4 80.2,197.7 79.0,197.6 C77.8,197.5 77.2,193.7 76.5,192.0 C75.8,190.3 75.7,188.9 74.6,187.2 C73.5,185.5 71.7,183.7 70.0,182.0 C68.3,180.3 66.4,178.7 64.4,176.9 C62.4,175.1 60.2,172.9 58.0,171.0 C55.8,169.1 53.5,167.0 51.3,165.3 C49.1,163.6 46.7,162.0 45.0,160.8 C43.3,159.6 40.1,158.1 41.1,158.2 Z" fill="url(#gw1)" stroke="#111" stroke-width="1.7" stroke-linejoin="round"/><ellipse cx="104.2" cy="175.6" rx="4.0" ry="9.4" fill="#d6f0d2" stroke="#161616" stroke-width="1.2"/><path d="M112.6,182.6 C112.9,177 113.4,172.5 114.2,170.2 C115,168.8 116.5,168.6 118,168.6" fill="none" stroke="#161616" stroke-width="1.1" stroke-linecap="round" stroke-linejoin="round"/><path d="M79.0,197.6 C80.2,197.2 83.2,196.2 86.0,195.2 C88.8,194.2 93.5,192.5 96.0,191.6 C98.5,190.7 99.1,190.8 100.9,189.8 C102.7,188.8 104.8,187.0 106.8,185.8 C108.8,184.6 110.7,183.5 112.6,182.8 C114.5,182.1 117.1,181.6 118.0,181.4" fill="none" stroke="#111" stroke-width="1.9" stroke-linecap="round" stroke-linejoin="round"/><path d="M76.3,203.0 C77.9,202.7 82.9,202.4 86.0,201.3 C89.1,200.2 92.5,198.4 95.0,196.5 C97.5,194.6 99.9,191.1 100.9,190.0" fill="none" stroke="#161616" stroke-width="1.1" stroke-linecap="round" stroke-linejoin="round"/><path d="M34.5,134.6 C36.4,134.6 42.2,133.9 46.0,134.6 C49.8,135.3 54.0,137.2 57.1,139.0 C60.2,140.8 62.5,143.3 64.5,145.5 C66.5,147.7 67.5,149.8 68.8,152.1 C70.0,154.3 71.1,156.6 72.0,159.0 C72.9,161.4 74.0,165.2 74.4,166.5" fill="none" stroke="#161616" stroke-width="1.1" stroke-linecap="round" stroke-linejoin="round"/><path d="M34.5,144.1 C36.8,145.4 43.0,148.7 48.0,152.0 C53.0,155.3 61.7,161.8 64.4,163.8" fill="none" stroke="#161616" stroke-width="1.1" stroke-linecap="round" stroke-linejoin="round"/><path d="M34.5,152.8 L41.1,158.2" fill="none" stroke="#161616" stroke-width="1.1" stroke-linecap="round" stroke-linejoin="round"/><path d="M34.5,160.9 C36.8,162.2 43.8,166.1 48.0,169.0 C52.2,171.9 57.0,175.6 60.0,178.4 C63.0,181.2 64.3,183.1 66.0,186.0 C67.7,188.9 69.6,194.2 70.3,195.9" fill="none" stroke="#222" stroke-width="0.9" stroke-dasharray="2.6 1.6"/><path d="M58.5,176.0 C59.8,177.6 64.0,182.3 66.0,185.5 C68.0,188.7 69.5,191.8 70.3,195.0 C71.1,198.2 70.5,203.3 70.6,205.0" fill="none" stroke="#161616" stroke-width="1.1" stroke-linecap="round" stroke-linejoin="round"/><path d="M64.4,176.9 C65.5,178.0 69.2,181.2 71.0,183.5 C72.8,185.8 74.3,188.1 75.3,190.5 C76.3,192.9 76.6,195.9 76.8,198.0 C77.0,200.1 76.3,202.3 76.2,203.2" fill="none" stroke="#161616" stroke-width="1.1" stroke-linecap="round" stroke-linejoin="round"/><path d="M34.5,195.9 C37.1,196.6 45.8,199.4 50.0,200.3 C54.2,201.2 56.4,201.3 60.0,201.6 C63.6,201.8 69.6,201.8 71.5,201.8" fill="none" stroke="#161616" stroke-width="1.1" stroke-linecap="round" stroke-linejoin="round"/><path d="M34.5,207.6 C37.1,208.1 45.0,210.2 50.0,210.8 C55.0,211.4 60.7,211.6 64.4,211.2 C68.1,210.8 70.0,209.8 72.0,208.5 C74.0,207.2 75.1,204.6 76.1,203.2 C77.1,201.8 77.5,200.9 78.0,200.0 C78.5,199.1 78.8,198.0 79.0,197.6" fill="none" stroke="#111" stroke-width="1.9" stroke-linecap="round" stroke-linejoin="round"/></g>
<path d="M117.5,197.0 C116.8,197.5 114.5,198.2 113.5,200.0 C112.5,201.8 112.0,205.3 111.5,208.0 C111.0,210.7 111.2,213.3 110.5,216.0 C109.8,218.7 108.9,221.7 107.5,224.0 C106.1,226.3 104.1,228.2 102.0,230.0 C99.9,231.8 97.3,233.6 95.0,235.0 C92.7,236.4 90.5,237.5 88.0,238.5 C85.5,239.5 78.8,240.2 80.0,241.0 C81.2,241.8 88.8,243.2 95.0,243.0 C101.2,242.8 110.0,240.0 117.5,240.0 C125.0,240.0 133.8,242.8 140.0,243.0 C146.2,243.2 153.8,241.8 155.0,241.0 C156.2,240.2 149.5,239.5 147.0,238.5 C144.5,237.5 142.3,236.4 140.0,235.0 C137.7,233.6 135.1,231.8 133.0,230.0 C130.9,228.2 128.9,226.3 127.5,224.0 C126.1,221.7 125.2,218.7 124.5,216.0 C123.8,213.3 124.0,210.7 123.5,208.0 C123.0,205.3 122.5,201.8 121.5,200.0 C120.5,198.2 118.2,197.5 117.5,197.0 C116.8,196.5 118.2,196.5 117.5,197.0 Z" fill="#9ddf9c" opacity="0.75" filter="url(#bl1)"/>
<path d="M117.5,198.5 C117.0,198.8 115.5,199.2 114.8,200.5 C114.1,201.8 113.8,203.8 113.4,206.0 C113.0,208.2 113.0,211.3 112.6,214.0 C112.2,216.7 111.6,219.5 110.8,222.0 C110.0,224.5 108.8,227.0 107.5,229.0 C106.2,231.0 101.3,232.5 103.0,234.0 C104.7,235.5 112.7,238.0 117.5,238.0 C122.3,238.0 130.3,235.5 132.0,234.0 C133.7,232.5 128.8,231.0 127.5,229.0 C126.2,227.0 125.0,224.5 124.2,222.0 C123.4,219.5 122.8,216.7 122.4,214.0 C122.0,211.3 122.0,208.2 121.6,206.0 C121.2,203.8 120.9,201.8 120.2,200.5 C119.5,199.2 118.0,198.8 117.5,198.5 C117.0,198.2 118.0,198.2 117.5,198.5 Z" fill="#74d077" filter="url(#bl1)"/>
<path d="M37.0,230.0 C36.7,227.2 41.5,224.7 44.0,225.0 C46.5,225.3 48.3,229.5 52.0,232.0 C55.7,234.5 65.0,238.0 66.0,240.0 C67.0,242.0 61.3,243.7 58.0,244.0 C54.7,244.3 49.5,244.3 46.0,242.0 C42.5,239.7 37.3,232.8 37.0,230.0 Z" fill="#bfe8bd" opacity="0.85" filter="url(#bl1)"/><g transform="translate(235.0,0) scale(-1,1)"><path d="M37.0,230.0 C36.7,227.2 41.5,224.7 44.0,225.0 C46.5,225.3 48.3,229.5 52.0,232.0 C55.7,234.5 65.0,238.0 66.0,240.0 C67.0,242.0 61.3,243.7 58.0,244.0 C54.7,244.3 49.5,244.3 46.0,242.0 C42.5,239.7 37.3,232.8 37.0,230.0 Z" fill="#bfe8bd" opacity="0.85" filter="url(#bl1)"/></g>
<path d="M41.8,236.8 C42.5,236.7 47.7,238.9 51.0,239.8 C54.3,240.7 58.3,241.8 61.5,242.3 C64.7,242.8 67.6,243.0 70.0,243.0 C72.4,243.0 73.1,242.8 76.1,242.5 C79.1,242.2 84.5,242.1 87.8,241.4 C91.1,240.7 93.3,239.7 96.0,238.5 C98.7,237.3 101.7,235.4 103.8,234.3 C105.9,233.2 107.0,232.5 108.5,232.0 C110.0,231.5 111.6,231.3 112.6,231.4 C113.6,231.5 114.0,232.1 114.6,232.6 C115.2,233.1 115.5,234.1 116.0,234.2 C116.5,234.3 117.0,233.4 117.5,233.4 C118.0,233.4 118.5,234.3 119.0,234.2 C119.5,234.1 119.8,233.1 120.4,232.6 C121.0,232.1 121.4,231.5 122.4,231.4 C123.4,231.3 125.0,231.5 126.5,232.0 C128.0,232.5 129.1,233.2 131.2,234.3 C133.3,235.4 136.3,237.3 139.0,238.5 C141.7,239.7 143.9,240.7 147.2,241.4 C150.5,242.1 155.9,242.2 158.9,242.5 C161.9,242.8 162.6,243.0 165.0,243.0 C167.4,243.0 170.3,242.8 173.5,242.3 C176.7,241.8 180.7,240.7 184.0,239.8 C187.3,238.9 192.5,236.7 193.2,236.8 C193.9,236.9 190.1,239.2 188.0,240.5 C185.9,241.8 183.1,243.1 180.8,244.5 C178.5,245.9 176.4,247.4 174.0,249.0 C171.6,250.6 168.4,252.5 166.2,254.0 C164.0,255.5 162.7,256.5 161.0,258.0 C159.3,259.5 157.2,261.5 156.0,262.8 C154.8,264.1 154.2,265.0 153.5,266.0 C152.8,267.0 152.3,267.9 151.6,268.8 C150.8,269.7 150.0,270.9 149.0,271.6 C148.0,272.3 147.1,272.7 145.8,273.0 C144.5,273.3 142.6,272.9 141.4,273.2 C140.2,273.5 139.3,275.0 138.5,274.7 C137.7,274.4 137.2,272.5 136.5,271.5 C135.8,270.5 135.0,269.6 134.1,268.6 C133.2,267.6 132.2,266.3 131.0,265.3 C129.8,264.3 128.3,263.3 126.8,262.8 C125.3,262.3 123.5,262.2 122.0,262.1 C120.5,262.0 119.0,262.0 117.5,262.0 C116.0,262.0 114.5,262.0 113.0,262.1 C111.5,262.2 109.7,262.3 108.2,262.8 C106.7,263.3 105.2,264.3 104.0,265.3 C102.8,266.3 101.8,267.6 100.9,268.6 C100.0,269.6 99.2,270.5 98.5,271.5 C97.8,272.5 97.3,274.4 96.5,274.7 C95.7,275.0 94.8,273.5 93.6,273.2 C92.4,272.9 90.5,273.3 89.2,273.0 C87.9,272.7 87.0,272.3 86.0,271.6 C85.0,270.9 84.2,269.7 83.4,268.8 C82.7,267.9 82.2,267.0 81.5,266.0 C80.8,265.0 80.2,264.1 79.0,262.8 C77.8,261.5 75.7,259.5 74.0,258.0 C72.3,256.5 71.0,255.5 68.8,254.0 C66.6,252.5 63.4,250.6 61.0,249.0 C58.6,247.4 56.5,245.9 54.2,244.5 C51.9,243.1 49.1,241.8 47.0,240.5 C44.9,239.2 41.1,236.9 41.8,236.8 Z" fill="url(#gw2)" stroke="#111" stroke-width="1.7" stroke-linejoin="round"/>
<path d="M96.5,275.0 C96.3,275.5 95.6,277.1 95.6,278.0 C95.6,278.9 96.0,279.8 96.7,280.5 C97.4,281.2 98.8,281.6 100.0,282.0 C101.2,282.4 102.9,282.6 103.8,283.2 C104.7,283.8 104.9,284.7 105.5,285.3 C106.1,285.9 105.2,286.7 107.2,287.0 C109.2,287.3 115.8,287.2 117.5,287.3" fill="none" stroke="#111" stroke-width="1.9" stroke-linecap="round" stroke-linejoin="round"/><path d="M61.5,241.6 C55,236 48,228 46.2,223 C45,219.2 48,217.3 51.2,219 C58,223 68,233 76.1,239.6" fill="none" stroke="#161616" stroke-width="1.1" stroke-linecap="round" stroke-linejoin="round"/><path d="M34.5,229.9 C37.9,232.4 48.1,240.0 55.0,245.2 C61.9,250.4 72.6,258.6 76.1,261.3" fill="none" stroke="#222" stroke-width="0.9" stroke-dasharray="2.6 1.6"/><path d="M34.5,266.4 C37.9,267.3 47.6,270.4 55.0,271.8 C62.4,273.2 75.0,274.1 79.0,274.6" fill="none" stroke="#161616" stroke-width="1.1" stroke-linecap="round" stroke-linejoin="round"/><path d="M33.8,275.2 C35.7,275.8 41.6,278.0 45.0,279.0 C48.4,280.0 50.4,280.6 54.2,281.0 C58.0,281.4 63.6,282.2 68.0,281.6 C72.4,281.0 78.4,278.1 80.5,277.4" fill="none" stroke="#111" stroke-width="1.9" stroke-linecap="round" stroke-linejoin="round"/><path d="M49.1,283.0 C49.8,283.3 51.2,284.6 53.0,285.0 C54.8,285.4 57.4,285.7 60.0,285.6 C62.6,285.6 66.1,285.1 68.8,284.7 C71.5,284.3 73.9,283.9 76.0,283.0 C78.1,282.1 80.3,280.2 81.2,279.6" fill="none" stroke="#161616" stroke-width="1.1" stroke-linecap="round" stroke-linejoin="round"/><path d="M49.1,283 C50,282 52,281.8 54.2,282" fill="none" stroke="#161616" stroke-width="1.1" stroke-linecap="round" stroke-linejoin="round"/><ellipse cx="82.2" cy="269" rx="2.1" ry="4.6" fill="#fff" stroke="#161616" stroke-width="1" transform="rotate(-14 82.2 269)"/><path d="M80,276.2 L90,274.8 L93,273.3 M80.6,278.6 L90.5,277 L95,275.2" fill="none" stroke="#161616" stroke-width="1.1" stroke-linecap="round" stroke-linejoin="round"/><g transform="translate(235.0,0) scale(-1,1)"><path d="M96.5,275.0 C96.3,275.5 95.6,277.1 95.6,278.0 C95.6,278.9 96.0,279.8 96.7,280.5 C97.4,281.2 98.8,281.6 100.0,282.0 C101.2,282.4 102.9,282.6 103.8,283.2 C104.7,283.8 104.9,284.7 105.5,285.3 C106.1,285.9 105.2,286.7 107.2,287.0 C109.2,287.3 115.8,287.2 117.5,287.3" fill="none" stroke="#111" stroke-width="1.9" stroke-linecap="round" stroke-linejoin="round"/><path d="M61.5,241.6 C55,236 48,228 46.2,223 C45,219.2 48,217.3 51.2,219 C58,223 68,233 76.1,239.6" fill="none" stroke="#161616" stroke-width="1.1" stroke-linecap="round" stroke-linejoin="round"/><path d="M34.5,229.9 C37.9,232.4 48.1,240.0 55.0,245.2 C61.9,250.4 72.6,258.6 76.1,261.3" fill="none" stroke="#222" stroke-width="0.9" stroke-dasharray="2.6 1.6"/><path d="M34.5,266.4 C37.9,267.3 47.6,270.4 55.0,271.8 C62.4,273.2 75.0,274.1 79.0,274.6" fill="none" stroke="#161616" stroke-width="1.1" stroke-linecap="round" stroke-linejoin="round"/><path d="M33.8,275.2 C35.7,275.8 41.6,278.0 45.0,279.0 C48.4,280.0 50.4,280.6 54.2,281.0 C58.0,281.4 63.6,282.2 68.0,281.6 C72.4,281.0 78.4,278.1 80.5,277.4" fill="none" stroke="#111" stroke-width="1.9" stroke-linecap="round" stroke-linejoin="round"/><path d="M49.1,283.0 C49.8,283.3 51.2,284.6 53.0,285.0 C54.8,285.4 57.4,285.7 60.0,285.6 C62.6,285.6 66.1,285.1 68.8,284.7 C71.5,284.3 73.9,283.9 76.0,283.0 C78.1,282.1 80.3,280.2 81.2,279.6" fill="none" stroke="#161616" stroke-width="1.1" stroke-linecap="round" stroke-linejoin="round"/><path d="M49.1,283 C50,282 52,281.8 54.2,282" fill="none" stroke="#161616" stroke-width="1.1" stroke-linecap="round" stroke-linejoin="round"/><ellipse cx="82.2" cy="269" rx="2.1" ry="4.6" fill="#fff" stroke="#161616" stroke-width="1" transform="rotate(-14 82.2 269)"/><path d="M80,276.2 L90,274.8 L93,273.3 M80.6,278.6 L90.5,277 L95,275.2" fill="none" stroke="#161616" stroke-width="1.1" stroke-linecap="round" stroke-linejoin="round"/></g>
<path d="M119.5,294.0 C118.8,294.4 116.4,295.0 115.5,296.5 C114.6,298.0 114.5,300.8 114.0,303.0 C113.5,305.2 113.2,307.8 112.5,310.0 C111.8,312.2 110.4,314.5 109.5,316.0 C108.6,317.5 105.3,318.0 107.0,319.0 C108.7,320.0 115.3,322.0 119.5,322.0 C123.7,322.0 130.3,320.0 132.0,319.0 C133.7,318.0 130.4,317.5 129.5,316.0 C128.6,314.5 127.2,312.2 126.5,310.0 C125.8,307.8 125.5,305.2 125.0,303.0 C124.5,300.8 124.4,298.0 123.5,296.5 C122.6,295.0 120.2,294.4 119.5,294.0 C118.8,293.6 120.2,293.6 119.5,294.0 Z" fill="#9ddf9c" opacity="0.8" filter="url(#bl1)"/>
<path d="M119.5,295.5 C119.0,295.8 117.4,296.2 116.8,297.5 C116.2,298.8 116.1,300.9 115.8,303.0 C115.5,305.1 115.5,307.8 115.0,310.0 C114.5,312.2 113.7,314.5 113.0,316.0 C112.3,317.5 109.9,318.0 111.0,319.0 C112.1,320.0 116.7,322.0 119.5,322.0 C122.3,322.0 126.9,320.0 128.0,319.0 C129.1,318.0 126.7,317.5 126.0,316.0 C125.3,314.5 124.5,312.2 124.0,310.0 C123.5,307.8 123.5,305.1 123.2,303.0 C122.9,300.9 122.8,298.8 122.2,297.5 C121.6,296.2 120.0,295.8 119.5,295.5 C119.0,295.2 120.0,295.2 119.5,295.5 Z" fill="#78d27a" filter="url(#bl1)"/>
<path d="M52.0,316.3 C52.7,315.8 57.2,317.1 60.0,318.0 C62.8,318.9 65.8,319.9 68.8,321.4 C71.8,322.9 75.1,325.1 78.0,327.0 C80.9,328.9 84.0,331.6 86.3,333.1 C88.6,334.6 90.0,335.4 92.0,336.0 C94.0,336.6 96.5,336.7 98.0,336.7 C99.5,336.7 100.2,336.3 101.2,335.8 C102.2,335.3 102.7,335.2 103.8,333.8 C104.9,332.4 106.5,329.7 108.0,327.5 C109.5,325.3 111.5,322.3 112.6,320.7 C113.7,319.1 113.9,318.6 114.6,318.0 C115.3,317.4 116.2,317.2 117.0,317.0 C117.8,316.8 118.7,317.0 119.5,317.0 C120.3,317.0 121.2,316.8 122.0,317.0 C122.8,317.2 123.7,317.4 124.4,318.0 C125.1,318.6 125.3,319.1 126.4,320.7 C127.5,322.3 129.5,325.3 131.0,327.5 C132.5,329.7 134.1,332.4 135.2,333.8 C136.3,335.2 136.8,335.3 137.8,335.8 C138.8,336.3 139.5,336.7 141.0,336.7 C142.5,336.7 145.1,336.6 147.0,336.0 C148.9,335.4 150.4,334.6 152.7,333.1 C155.0,331.6 158.1,328.9 161.0,327.0 C163.9,325.1 167.2,322.9 170.2,321.4 C173.2,319.9 176.2,318.9 179.0,318.0 C181.8,317.1 186.3,315.8 187.0,316.3 C187.7,316.8 184.6,319.0 183.0,321.0 C181.4,323.0 179.0,326.3 177.5,328.5 C176.0,330.7 175.2,332.1 174.0,334.0 C172.8,335.9 172.0,337.4 170.2,339.6 C168.4,341.8 165.4,344.6 163.0,347.0 C160.6,349.4 158.3,351.9 155.6,354.2 C152.9,356.5 149.8,359.0 147.0,361.0 C144.2,363.0 140.7,365.5 138.8,366.0 C136.9,366.5 136.6,364.8 135.5,364.0 C134.4,363.2 133.3,362.6 132.2,361.5 C131.1,360.4 130.2,358.7 129.0,357.5 C127.8,356.3 126.6,355.1 125.0,354.4 C123.4,353.7 121.3,353.2 119.5,353.2 C117.7,353.2 115.6,353.7 114.0,354.4 C112.4,355.1 111.2,356.3 110.0,357.5 C108.8,358.7 107.9,360.4 106.8,361.5 C105.7,362.6 104.6,363.2 103.5,364.0 C102.4,364.8 102.1,366.5 100.2,366.0 C98.3,365.5 94.8,363.0 92.0,361.0 C89.2,359.0 86.1,356.5 83.4,354.2 C80.7,351.9 78.4,349.4 76.0,347.0 C73.6,344.6 70.6,341.8 68.8,339.6 C67.0,337.4 66.2,335.9 65.0,334.0 C63.8,332.1 63.0,330.7 61.5,328.5 C60.0,326.3 57.6,323.0 56.0,321.0 C54.4,319.0 51.3,316.8 52.0,316.3 Z" fill="url(#gw3)" stroke="#111" stroke-width="1.7" stroke-linejoin="round"/>
<path d="M33.0,303.1 C34.3,303.7 38.7,305.2 41.0,306.5 C43.3,307.8 45.2,309.4 47.0,311.0 C48.8,312.6 51.2,315.4 52.0,316.3" fill="none" stroke="#222" stroke-width="0.9" stroke-dasharray="2.6 1.6"/><path d="M41.0,307.0 C42.3,309.2 45.3,315.7 49.0,320.0 C52.7,324.3 60.7,330.8 63.0,333.0" fill="none" stroke="#222" stroke-width="0.9" stroke-dasharray="2.6 1.6"/><path d="M64.4,333.8 C64.8,335.7 65.5,341.4 67.0,345.0 C68.5,348.6 71.0,352.9 73.2,355.7 C75.4,358.5 77.3,360.3 80.0,362.0 C82.7,363.7 87.7,365.2 89.2,365.9" fill="none" stroke="#222" stroke-width="0.9" stroke-dasharray="2.6 1.6"/><path d="M66.5,336.0 C67.6,338.0 70.4,344.3 73.0,348.0 C75.6,351.7 78.3,354.9 82.0,358.0 C85.7,361.1 92.8,365.1 95.0,366.5" fill="none" stroke="#161616" stroke-width="1.1" stroke-linecap="round" stroke-linejoin="round"/><path d="M68.8,339.6 C70.0,341.2 73.1,346.2 76.0,349.5 C78.9,352.8 82.3,356.6 86.0,359.5 C89.7,362.4 96.0,365.6 98.0,366.8" fill="none" stroke="#161616" stroke-width="1.1" stroke-linecap="round" stroke-linejoin="round"/><path d="M33.8,340.4 C36.5,341.6 45.4,344.9 50.0,347.5 C54.6,350.1 57.3,352.9 61.5,355.7 C65.7,358.4 69.4,361.7 75.0,364.0 C80.6,366.3 91.8,368.7 95.1,369.6" fill="none" stroke="#161616" stroke-width="1.1" stroke-linecap="round" stroke-linejoin="round"/><path d="M33.8,347.7 C35.5,349.1 40.6,353.2 44.0,356.0 C47.4,358.8 51.2,362.3 54.2,364.5 C57.2,366.7 59.6,367.8 62.0,369.0 C64.4,370.2 65.8,370.8 68.8,371.8 C71.8,372.8 76.3,374.3 80.0,375.0 C83.7,375.7 88.3,376.0 90.7,376.1 C93.1,376.2 93.5,376.0 94.5,375.6 C95.5,375.2 96.2,374.2 96.5,373.9" fill="none" stroke="#111" stroke-width="1.9" stroke-linecap="round" stroke-linejoin="round"/><path d="M96.8,369.8 C96.9,370.3 96.7,371.9 97.4,373.0 C98.1,374.1 99.1,374.9 100.9,376.1 C102.7,377.3 104.9,378.9 108.0,380.0 C111.1,381.1 117.6,382.4 119.5,382.9" fill="none" stroke="#111" stroke-width="1.9" stroke-linecap="round" stroke-linejoin="round"/><path d="M95.1,369.6 C97,368 98.5,366.8 100.2,366" fill="none" stroke="#161616" stroke-width="1.1" stroke-linecap="round" stroke-linejoin="round"/><g transform="translate(239.0,0) scale(-1,1)"><path d="M33.0,303.1 C34.3,303.7 38.7,305.2 41.0,306.5 C43.3,307.8 45.2,309.4 47.0,311.0 C48.8,312.6 51.2,315.4 52.0,316.3" fill="none" stroke="#222" stroke-width="0.9" stroke-dasharray="2.6 1.6"/><path d="M41.0,307.0 C42.3,309.2 45.3,315.7 49.0,320.0 C52.7,324.3 60.7,330.8 63.0,333.0" fill="none" stroke="#222" stroke-width="0.9" stroke-dasharray="2.6 1.6"/><path d="M64.4,333.8 C64.8,335.7 65.5,341.4 67.0,345.0 C68.5,348.6 71.0,352.9 73.2,355.7 C75.4,358.5 77.3,360.3 80.0,362.0 C82.7,363.7 87.7,365.2 89.2,365.9" fill="none" stroke="#222" stroke-width="0.9" stroke-dasharray="2.6 1.6"/><path d="M66.5,336.0 C67.6,338.0 70.4,344.3 73.0,348.0 C75.6,351.7 78.3,354.9 82.0,358.0 C85.7,361.1 92.8,365.1 95.0,366.5" fill="none" stroke="#161616" stroke-width="1.1" stroke-linecap="round" stroke-linejoin="round"/><path d="M68.8,339.6 C70.0,341.2 73.1,346.2 76.0,349.5 C78.9,352.8 82.3,356.6 86.0,359.5 C89.7,362.4 96.0,365.6 98.0,366.8" fill="none" stroke="#161616" stroke-width="1.1" stroke-linecap="round" stroke-linejoin="round"/><path d="M33.8,340.4 C36.5,341.6 45.4,344.9 50.0,347.5 C54.6,350.1 57.3,352.9 61.5,355.7 C65.7,358.4 69.4,361.7 75.0,364.0 C80.6,366.3 91.8,368.7 95.1,369.6" fill="none" stroke="#161616" stroke-width="1.1" stroke-linecap="round" stroke-linejoin="round"/><path d="M33.8,347.7 C35.5,349.1 40.6,353.2 44.0,356.0 C47.4,358.8 51.2,362.3 54.2,364.5 C57.2,366.7 59.6,367.8 62.0,369.0 C64.4,370.2 65.8,370.8 68.8,371.8 C71.8,372.8 76.3,374.3 80.0,375.0 C83.7,375.7 88.3,376.0 90.7,376.1 C93.1,376.2 93.5,376.0 94.5,375.6 C95.5,375.2 96.2,374.2 96.5,373.9" fill="none" stroke="#111" stroke-width="1.9" stroke-linecap="round" stroke-linejoin="round"/><path d="M96.8,369.8 C96.9,370.3 96.7,371.9 97.4,373.0 C98.1,374.1 99.1,374.9 100.9,376.1 C102.7,377.3 104.9,378.9 108.0,380.0 C111.1,381.1 117.6,382.4 119.5,382.9" fill="none" stroke="#111" stroke-width="1.9" stroke-linecap="round" stroke-linejoin="round"/><path d="M95.1,369.6 C97,368 98.5,366.8 100.2,366" fill="none" stroke="#161616" stroke-width="1.1" stroke-linecap="round" stroke-linejoin="round"/></g>
<text x="256.5" y="279.6" font-size="17.5" text-anchor="start" font-weight="bold" font-style="normal" fill="#111" >d</text>
<line x1="276.1" y1="267.5" x2="276.1" y2="311.5" stroke="#222" stroke-width="1.2" />
<line x1="385.2" y1="267.5" x2="385.2" y2="311.5" stroke="#222" stroke-width="1.2" />
<line x1="511.6" y1="267.5" x2="511.6" y2="311.5" stroke="#222" stroke-width="1.2" />
<line x1="585.5" y1="267.5" x2="585.5" y2="311.5" stroke="#222" stroke-width="1.2" />
<line x1="654.5" y1="267.5" x2="654.5" y2="311.5" stroke="#222" stroke-width="1.2" />
<line x1="329.4" y1="281.5" x2="329.4" y2="309.5" stroke="#777" stroke-width="1.1" />
<line x1="276.1" y1="296.1" x2="654.5" y2="296.1" stroke="#222" stroke-width="1.1" />
<text x="330.3" y="278.2" font-size="12.55" text-anchor="middle" font-weight="bold" font-style="normal" fill="#111" >Lever Training</text>
<text x="304.4" y="292.8" font-size="12.55" text-anchor="middle" font-weight="normal" font-style="normal" fill="#0a0a0a" >FR1</text>
<text x="358.2" y="292.8" font-size="12.55" text-anchor="middle" font-weight="normal" font-style="normal" fill="#0a0a0a" >VI30s</text>
<text x="304.1" y="307.6" font-size="11.8" text-anchor="middle" font-weight="normal" font-style="normal" fill="#0a0a0a" >(2 days)</text>
<text x="357.4" y="307.6" font-size="11.8" text-anchor="middle" font-weight="normal" font-style="normal" fill="#0a0a0a" >(7 days)</text>
<text x="450.5" y="278.2" font-size="12.55" text-anchor="middle" font-weight="bold" font-style="normal" fill="#d02b2b" >Punishment</text>
<text x="418.2" y="292.8" font-size="12.55" text-anchor="middle" font-weight="normal" font-style="normal" fill="#0a0a0a" >Acquisition</text>
<text x="482.6" y="292.8" font-size="12.55" text-anchor="middle" font-weight="normal" font-style="normal" fill="#0a0a0a" >Expr test</text>
<text x="392.1" y="307.6" font-size="11.4" text-anchor="middle" font-weight="bold" font-style="normal" fill="#d02b2b" >1</text>
<text x="405.2" y="307.6" font-size="11.4" text-anchor="middle" font-weight="bold" font-style="normal" fill="#d02b2b" >2</text>
<text x="418.0" y="307.6" font-size="11.4" text-anchor="middle" font-weight="normal" font-style="normal" fill="#d02b2b" >3</text>
<text x="430.6" y="307.6" font-size="11.4" text-anchor="middle" font-weight="normal" font-style="normal" fill="#d02b2b" >4</text>
<text x="443.2" y="307.6" font-size="11.4" text-anchor="middle" font-weight="normal" font-style="normal" fill="#d02b2b" >5</text>
<text x="455.8" y="307.6" font-size="11.4" text-anchor="middle" font-weight="normal" font-style="normal" fill="#d02b2b" >6</text>
<text x="472.2" y="307.6" font-size="11.4" text-anchor="middle" font-weight="bold" font-style="normal" fill="#d02b2b" >7</text>
<text x="493.8" y="307.6" font-size="11.4" text-anchor="middle" font-weight="bold" font-style="normal" fill="#d02b2b" >8</text>
<text x="519.8" y="307.6" font-size="11.4" text-anchor="middle" font-weight="normal" font-style="normal" fill="#d02b2b" >9</text>
<text x="536.2" y="307.6" font-size="11.4" text-anchor="middle" font-weight="bold" font-style="normal" fill="#111" >10</text>
<text x="553.6" y="307.6" font-size="11.4" text-anchor="middle" font-weight="normal" font-style="normal" fill="#d02b2b" >11</text>
<text x="570.9" y="307.6" font-size="11.4" text-anchor="middle" font-weight="bold" font-style="normal" fill="#111" >12</text>
<text x="600.3" y="307.6" font-size="11.4" text-anchor="middle" font-weight="normal" font-style="normal" fill="#111" >14</text>
<text x="619.3" y="307.6" font-size="11.4" text-anchor="middle" font-weight="normal" font-style="normal" fill="#111" >15</text>
<text x="638.4" y="307.6" font-size="11.4" text-anchor="middle" font-weight="normal" font-style="normal" fill="#111" >16</text>
<path d="M392.1,319.6 L392.1,314.5" stroke="#111" stroke-width="1.4" fill="none"/><polygon points="389.4,316.1 394.8,316.1 392.1,311.5" fill="#111"/>
<path d="M405.2,319.6 L405.2,314.5" stroke="#111" stroke-width="1.4" fill="none"/><polygon points="402.5,316.1 407.9,316.1 405.2,311.5" fill="#111"/>
<path d="M472.2,319.6 L472.2,314.5" stroke="#111" stroke-width="1.4" fill="none"/><polygon points="469.5,316.1 474.9,316.1 472.2,311.5" fill="#111"/>
<path d="M493.8,319.6 L493.8,314.5" stroke="#111" stroke-width="1.4" fill="none"/><polygon points="491.1,316.1 496.5,316.1 493.8,311.5" fill="#111"/>
<path d="M536.2,319.6 L536.2,314.5" stroke="#111" stroke-width="1.4" fill="none"/><polygon points="533.5,316.1 538.9,316.1 536.2,311.5" fill="#111"/>
<path d="M571.5,319.6 L571.5,314.5" stroke="#111" stroke-width="1.4" fill="none"/><polygon points="568.8,316.1 574.2,316.1 571.5,311.5" fill="#111"/>
<path d="M619.3,319.6 L619.3,314.5" stroke="#111" stroke-width="1.4" fill="none"/><polygon points="616.6,316.1 622.0,316.1 619.3,311.5" fill="#111"/>
<path d="M638.8,319.6 L638.8,314.5" stroke="#111" stroke-width="1.4" fill="none"/><polygon points="636.1,316.1 641.5,316.1 638.8,311.5" fill="#111"/>
<text x="547.6" y="279.2" font-size="12.55" text-anchor="middle" font-weight="bold" font-style="normal" fill="#111" >Choice</text>
<text x="620.1" y="279.8" font-size="12.55" text-anchor="middle" font-weight="bold" font-style="normal" fill="#111" >Locomotor</text>
<text x="619.8" y="291.9" font-size="12.55" text-anchor="middle" font-weight="bold" font-style="normal" fill="#111" >Test</text>
<text x="281.0" y="332.2" font-size="12.55" text-anchor="start" font-weight="bold" font-style="normal" fill="#111" >A-CNO group:</text>
<text x="281.0" y="347.7" font-size="12.55" text-anchor="start" font-weight="bold" font-style="normal" fill="#111" >A-Veh group:</text>
<text x="398.8" y="332.2" font-size="12.55" text-anchor="middle" font-weight="normal" font-style="normal" fill="#0a0a0a" >CNO</text>
<text x="399.3" y="347.7" font-size="12.55" text-anchor="middle" font-weight="normal" font-style="normal" fill="#0a0a0a" >Veh</text>
<text x="483.6" y="332.2" font-size="12.55" text-anchor="middle" font-weight="normal" font-style="normal" fill="#0a0a0a" >CNO/Veh</text>
<text x="483.6" y="347.7" font-size="12.55" text-anchor="middle" font-weight="normal" font-style="normal" fill="#0a0a0a" >CNO/Veh</text>
<text x="555.0" y="332.2" font-size="12.55" text-anchor="middle" font-weight="normal" font-style="normal" fill="#0a0a0a" >CNO/Veh</text>
<text x="555.0" y="347.7" font-size="12.55" text-anchor="middle" font-weight="normal" font-style="normal" fill="#0a0a0a" >CNO/Veh</text>
<text x="630.0" y="332.2" font-size="12.55" text-anchor="middle" font-weight="normal" font-style="normal" fill="#0a0a0a" >CNO/Veh</text>
<text x="630.0" y="347.7" font-size="12.55" text-anchor="middle" font-weight="normal" font-style="normal" fill="#0a0a0a" >CNO/Veh</text>
<rect x="72.20" y="431.90" width="44.30" height="215.80" fill="#f1f1ef" stroke="none" stroke-width="0" />
<text x="123.5" y="416.3" font-size="15" text-anchor="middle" font-weight="bold" font-style="normal" fill="#111" >Acquisition</text>
<text x="6.5" y="428.3" font-size="17.5" text-anchor="start" font-weight="bold" font-style="normal" fill="#111" >e</text>
<line x1="54.0" y1="432.7" x2="54.0" y2="649.7" stroke="#2a2a2a" stroke-width="1.2" />
<line x1="53.4" y1="649.1" x2="197.8" y2="649.1" stroke="#2a2a2a" stroke-width="1.2" />
<line x1="50.8" y1="649.1" x2="54.0" y2="649.1" stroke="#2a2a2a" stroke-width="1.2" />
<text transform="translate(48.0,653.9) scale(0.93,1)" font-size="13.5" text-anchor="end" font-weight="normal" font-style="normal" fill="#0a0a0a" >0.0</text>
<line x1="50.8" y1="618.3" x2="54.0" y2="618.3" stroke="#2a2a2a" stroke-width="1.2" />
<text transform="translate(48.0,623.1) scale(0.93,1)" font-size="13.5" text-anchor="end" font-weight="normal" font-style="normal" fill="#0a0a0a" >0.1</text>
<line x1="50.8" y1="587.4" x2="54.0" y2="587.4" stroke="#2a2a2a" stroke-width="1.2" />
<text transform="translate(48.0,592.2) scale(0.93,1)" font-size="13.5" text-anchor="end" font-weight="normal" font-style="normal" fill="#0a0a0a" >0.2</text>
<line x1="50.8" y1="556.6" x2="54.0" y2="556.6" stroke="#2a2a2a" stroke-width="1.2" />
<text transform="translate(48.0,561.4) scale(0.93,1)" font-size="13.5" text-anchor="end" font-weight="normal" font-style="normal" fill="#0a0a0a" >0.3</text>
<line x1="50.8" y1="525.8" x2="54.0" y2="525.8" stroke="#2a2a2a" stroke-width="1.2" />
<text transform="translate(48.0,530.6) scale(0.93,1)" font-size="13.5" text-anchor="end" font-weight="normal" font-style="normal" fill="#0a0a0a" >0.4</text>
<line x1="50.8" y1="495.0" x2="54.0" y2="495.0" stroke="#2a2a2a" stroke-width="1.2" />
<text transform="translate(48.0,499.8) scale(0.93,1)" font-size="13.5" text-anchor="end" font-weight="normal" font-style="normal" fill="#0a0a0a" >0.5</text>
<line x1="50.8" y1="464.1" x2="54.0" y2="464.1" stroke="#2a2a2a" stroke-width="1.2" />
<text transform="translate(48.0,468.9) scale(0.93,1)" font-size="13.5" text-anchor="end" font-weight="normal" font-style="normal" fill="#0a0a0a" >0.6</text>
<line x1="50.8" y1="433.3" x2="54.0" y2="433.3" stroke="#2a2a2a" stroke-width="1.2" />
<text transform="translate(48.0,438.1) scale(0.93,1)" font-size="13.5" text-anchor="end" font-weight="normal" font-style="normal" fill="#0a0a0a" >0.7</text>
<line x1="64.4" y1="649.1" x2="64.4" y2="652.3" stroke="#2a2a2a" stroke-width="1.2" />
<text x="64.4" y="664.1" font-size="13.5" text-anchor="middle" font-weight="normal" font-style="normal" fill="#0a0a0a" >T</text>
<line x1="84.8" y1="649.1" x2="84.8" y2="652.3" stroke="#2a2a2a" stroke-width="1.2" />
<text x="84.8" y="664.1" font-size="13.5" text-anchor="middle" font-weight="normal" font-style="normal" fill="#0a0a0a" >1</text>
<line x1="105.2" y1="649.1" x2="105.2" y2="652.3" stroke="#2a2a2a" stroke-width="1.2" />
<text x="105.2" y="664.1" font-size="13.5" text-anchor="middle" font-weight="normal" font-style="normal" fill="#0a0a0a" >2</text>
<line x1="125.8" y1="649.1" x2="125.8" y2="652.3" stroke="#2a2a2a" stroke-width="1.2" />
<text x="125.8" y="664.1" font-size="13.5" text-anchor="middle" font-weight="normal" font-style="normal" fill="#0a0a0a" >3</text>
<line x1="146.2" y1="649.1" x2="146.2" y2="652.3" stroke="#2a2a2a" stroke-width="1.2" />
<text x="146.2" y="664.1" font-size="13.5" text-anchor="middle" font-weight="normal" font-style="normal" fill="#0a0a0a" >4</text>
<line x1="166.7" y1="649.1" x2="166.7" y2="652.3" stroke="#2a2a2a" stroke-width="1.2" />
<text x="166.7" y="664.1" font-size="13.5" text-anchor="middle" font-weight="normal" font-style="normal" fill="#0a0a0a" >5</text>
<line x1="187.2" y1="649.1" x2="187.2" y2="652.3" stroke="#2a2a2a" stroke-width="1.2" />
<text x="187.2" y="664.1" font-size="13.5" text-anchor="middle" font-weight="normal" font-style="normal" fill="#0a0a0a" >6</text>
<text x="125.5" y="679.3" font-size="13.6" text-anchor="middle" font-weight="normal" font-style="normal" fill="#0a0a0a" >Session</text>
<text transform="translate(20.3,545.5) rotate(-90)" font-size="13.6" text-anchor="middle" fill="#0a0a0a">Suppression Ratio</text>
<line x1="59.7" y1="495.3" x2="197.5" y2="495.3" stroke="#111" stroke-width="1.75" stroke-dasharray="0 5.08" stroke-linecap="round"/>
<line x1="84.8" y1="512.8" x2="84.8" y2="535.6" stroke="#555" stroke-width="0.9" /><line x1="82.3" y1="512.8" x2="87.3" y2="512.8" stroke="#555" stroke-width="0.9" /><line x1="82.3" y1="535.6" x2="87.3" y2="535.6" stroke="#555" stroke-width="0.9" />
<line x1="105.2" y1="493.4" x2="105.2" y2="511.9" stroke="#555" stroke-width="0.9" /><line x1="102.7" y1="493.4" x2="107.7" y2="493.4" stroke="#555" stroke-width="0.9" /><line x1="102.7" y1="511.9" x2="107.7" y2="511.9" stroke="#555" stroke-width="0.9" />
<line x1="125.8" y1="479.8" x2="125.8" y2="499.6" stroke="#555" stroke-width="0.9" /><line x1="123.3" y1="479.8" x2="128.3" y2="479.8" stroke="#555" stroke-width="0.9" /><line x1="123.3" y1="499.6" x2="128.3" y2="499.6" stroke="#555" stroke-width="0.9" />
<line x1="146.2" y1="458.6" x2="146.2" y2="474.0" stroke="#555" stroke-width="0.9" /><line x1="143.7" y1="458.6" x2="148.7" y2="458.6" stroke="#555" stroke-width="0.9" /><line x1="143.7" y1="474.0" x2="148.7" y2="474.0" stroke="#555" stroke-width="0.9" />
<line x1="166.7" y1="465.4" x2="166.7" y2="483.9" stroke="#555" stroke-width="0.9" /><line x1="164.2" y1="465.4" x2="169.2" y2="465.4" stroke="#555" stroke-width="0.9" /><line x1="164.2" y1="483.9" x2="169.2" y2="483.9" stroke="#555" stroke-width="0.9" />
<line x1="84.8" y1="593.9" x2="84.8" y2="619.8" stroke="#555" stroke-width="0.9" /><line x1="82.3" y1="593.9" x2="87.3" y2="593.9" stroke="#555" stroke-width="0.9" /><line x1="82.3" y1="619.8" x2="87.3" y2="619.8" stroke="#555" stroke-width="0.9" />
<line x1="105.2" y1="588.7" x2="105.2" y2="628.8" stroke="#555" stroke-width="0.9" /><line x1="102.7" y1="588.7" x2="107.7" y2="588.7" stroke="#555" stroke-width="0.9" /><line x1="102.7" y1="628.8" x2="107.7" y2="628.8" stroke="#555" stroke-width="0.9" />
<line x1="125.8" y1="453.9" x2="125.8" y2="469.4" stroke="#555" stroke-width="0.9" /><line x1="123.3" y1="453.9" x2="128.3" y2="453.9" stroke="#555" stroke-width="0.9" /><line x1="123.3" y1="469.4" x2="128.3" y2="469.4" stroke="#555" stroke-width="0.9" />
<line x1="146.2" y1="460.1" x2="146.2" y2="478.6" stroke="#555" stroke-width="0.9" /><line x1="143.7" y1="460.1" x2="148.7" y2="460.1" stroke="#555" stroke-width="0.9" /><line x1="143.7" y1="478.6" x2="148.7" y2="478.6" stroke="#555" stroke-width="0.9" />
<line x1="166.7" y1="466.3" x2="166.7" y2="487.9" stroke="#555" stroke-width="0.9" /><line x1="164.2" y1="466.3" x2="169.2" y2="466.3" stroke="#555" stroke-width="0.9" /><line x1="164.2" y1="487.9" x2="169.2" y2="487.9" stroke="#555" stroke-width="0.9" />
<line x1="187.2" y1="458.9" x2="187.2" y2="488.5" stroke="#555" stroke-width="0.9" /><line x1="184.7" y1="458.9" x2="189.7" y2="458.9" stroke="#555" stroke-width="0.9" /><line x1="184.7" y1="488.5" x2="189.7" y2="488.5" stroke="#555" stroke-width="0.9" />
<line x1="84.8" y1="581.3" x2="84.8" y2="596.7" stroke="#555" stroke-width="0.9" /><line x1="82.3" y1="581.3" x2="87.3" y2="581.3" stroke="#555" stroke-width="0.9" /><line x1="82.3" y1="596.7" x2="87.3" y2="596.7" stroke="#555" stroke-width="0.9" />
<line x1="105.2" y1="620.4" x2="105.2" y2="638.9" stroke="#555" stroke-width="0.9" /><line x1="102.7" y1="620.4" x2="107.7" y2="620.4" stroke="#555" stroke-width="0.9" /><line x1="102.7" y1="638.9" x2="107.7" y2="638.9" stroke="#555" stroke-width="0.9" />
<line x1="125.8" y1="615.5" x2="125.8" y2="632.1" stroke="#555" stroke-width="0.9" /><line x1="123.3" y1="615.5" x2="128.3" y2="615.5" stroke="#555" stroke-width="0.9" /><line x1="123.3" y1="632.1" x2="128.3" y2="632.1" stroke="#555" stroke-width="0.9" />
<line x1="146.2" y1="610.3" x2="146.2" y2="628.8" stroke="#555" stroke-width="0.9" /><line x1="143.7" y1="610.3" x2="148.7" y2="610.3" stroke="#555" stroke-width="0.9" /><line x1="143.7" y1="628.8" x2="148.7" y2="628.8" stroke="#555" stroke-width="0.9" />
<line x1="166.7" y1="603.2" x2="166.7" y2="622.9" stroke="#555" stroke-width="0.9" /><line x1="164.2" y1="603.2" x2="169.2" y2="603.2" stroke="#555" stroke-width="0.9" /><line x1="164.2" y1="622.9" x2="169.2" y2="622.9" stroke="#555" stroke-width="0.9" />
<line x1="187.2" y1="617.3" x2="187.2" y2="634.0" stroke="#555" stroke-width="0.9" /><line x1="184.7" y1="617.3" x2="189.7" y2="617.3" stroke="#555" stroke-width="0.9" /><line x1="184.7" y1="634.0" x2="189.7" y2="634.0" stroke="#555" stroke-width="0.9" />
<line x1="84.8" y1="620.4" x2="84.8" y2="637.7" stroke="#555" stroke-width="0.9" /><line x1="82.3" y1="620.4" x2="87.3" y2="620.4" stroke="#555" stroke-width="0.9" /><line x1="82.3" y1="637.7" x2="87.3" y2="637.7" stroke="#555" stroke-width="0.9" />
<line x1="105.2" y1="633.7" x2="105.2" y2="646.0" stroke="#555" stroke-width="0.9" /><line x1="102.7" y1="633.7" x2="107.7" y2="633.7" stroke="#555" stroke-width="0.9" /><line x1="102.7" y1="646.0" x2="107.7" y2="646.0" stroke="#555" stroke-width="0.9" />
<line x1="125.8" y1="526.4" x2="125.8" y2="565.2" stroke="#555" stroke-width="0.9" /><line x1="123.3" y1="526.4" x2="128.3" y2="526.4" stroke="#555" stroke-width="0.9" /><line x1="123.3" y1="565.2" x2="128.3" y2="565.2" stroke="#555" stroke-width="0.9" />
<line x1="146.2" y1="551.1" x2="146.2" y2="598.5" stroke="#555" stroke-width="0.9" /><line x1="143.7" y1="551.1" x2="148.7" y2="551.1" stroke="#555" stroke-width="0.9" /><line x1="143.7" y1="598.5" x2="148.7" y2="598.5" stroke="#555" stroke-width="0.9" />
<line x1="166.7" y1="555.7" x2="166.7" y2="589.0" stroke="#555" stroke-width="0.9" /><line x1="164.2" y1="555.7" x2="169.2" y2="555.7" stroke="#555" stroke-width="0.9" /><line x1="164.2" y1="589.0" x2="169.2" y2="589.0" stroke="#555" stroke-width="0.9" />
<line x1="187.2" y1="567.1" x2="187.2" y2="604.1" stroke="#555" stroke-width="0.9" /><line x1="184.7" y1="567.1" x2="189.7" y2="567.1" stroke="#555" stroke-width="0.9" /><line x1="184.7" y1="604.1" x2="189.7" y2="604.1" stroke="#555" stroke-width="0.9" />
<polyline points="84.80,606.86 105.20,608.71 125.80,461.65 146.20,469.36 166.70,477.07 187.20,473.68" fill="none" stroke="#3e46a6" stroke-width="2.5" stroke-linejoin="round"/>
<circle cx="84.80" cy="606.86" r="5.2" fill="#3e46a6" stroke="#3e46a6" stroke-width="1"/>
<circle cx="105.20" cy="608.71" r="5.2" fill="#3e46a6" stroke="#3e46a6" stroke-width="1"/>
<circle cx="125.80" cy="461.65" r="5.2" fill="#3e46a6" stroke="#3e46a6" stroke-width="1"/>
<circle cx="146.20" cy="469.36" r="5.2" fill="#3e46a6" stroke="#3e46a6" stroke-width="1"/>
<circle cx="166.70" cy="477.07" r="5.2" fill="#3e46a6" stroke="#3e46a6" stroke-width="1"/>
<circle cx="187.20" cy="473.68" r="5.2" fill="#3e46a6" stroke="#3e46a6" stroke-width="1"/>
<polyline points="84.80,524.24 105.20,502.66 125.80,489.71 146.20,466.28 166.70,474.60 187.20,459.80" fill="none" stroke="#3e46a6" stroke-width="2.5" stroke-linejoin="round"/>
<polyline points="84.80,629.06 105.20,639.85 125.80,545.82 146.20,574.80 166.70,572.33 187.20,585.59" fill="none" stroke="#d02b2b" stroke-width="2.5" stroke-linejoin="round"/>
<polygon points="79.00,624.69 90.60,624.69 84.80,635.09" fill="#d02b2b" stroke="#d02b2b" stroke-width="1.2" stroke-linejoin="miter"/>
<polygon points="99.40,635.48 111.00,635.48 105.20,645.88" fill="#d02b2b" stroke="#d02b2b" stroke-width="1.2" stroke-linejoin="miter"/>
<polygon points="120.00,541.45 131.60,541.45 125.80,551.85" fill="#d02b2b" stroke="#d02b2b" stroke-width="1.2" stroke-linejoin="miter"/>
<polygon points="140.40,570.43 152.00,570.43 146.20,580.83" fill="#d02b2b" stroke="#d02b2b" stroke-width="1.2" stroke-linejoin="miter"/>
<polygon points="160.90,567.97 172.50,567.97 166.70,578.37" fill="#d02b2b" stroke="#d02b2b" stroke-width="1.2" stroke-linejoin="miter"/>
<polygon points="181.40,581.22 193.00,581.22 187.20,591.62" fill="#d02b2b" stroke="#d02b2b" stroke-width="1.2" stroke-linejoin="miter"/>
<polyline points="84.80,588.98 105.20,629.68 125.80,623.82 146.20,619.50 166.70,613.03 187.20,625.67" fill="none" stroke="#d02b2b" stroke-width="2.5" stroke-linejoin="round"/>
<circle cx="64.40" cy="494.95" r="4.7" fill="#fff" stroke="#3e46a6" stroke-width="1.9"/>
<circle cx="84.80" cy="524.24" r="4.7" fill="#fff" stroke="#3e46a6" stroke-width="1.9"/>
<circle cx="105.20" cy="502.66" r="4.7" fill="#fff" stroke="#3e46a6" stroke-width="1.9"/>
<circle cx="125.80" cy="489.71" r="4.7" fill="#fff" stroke="#3e46a6" stroke-width="1.9"/>
<circle cx="146.20" cy="466.28" r="4.7" fill="#fff" stroke="#3e46a6" stroke-width="1.9"/>
<circle cx="166.70" cy="474.60" r="4.7" fill="#fff" stroke="#3e46a6" stroke-width="1.9"/>
<circle cx="187.20" cy="459.80" r="4.7" fill="#fff" stroke="#3e46a6" stroke-width="1.9"/>
<polygon points="59.60,491.34 69.20,491.34 64.40,499.94" fill="#fff" stroke="#d02b2b" stroke-width="1.9" stroke-linejoin="miter"/>
<polygon points="80.00,585.37 89.60,585.37 84.80,593.97" fill="#fff" stroke="#d02b2b" stroke-width="1.9" stroke-linejoin="miter"/>
<polygon points="100.40,626.07 110.00,626.07 105.20,634.67" fill="#fff" stroke="#d02b2b" stroke-width="1.9" stroke-linejoin="miter"/>
<polygon points="121.00,620.21 130.60,620.21 125.80,628.81" fill="#fff" stroke="#d02b2b" stroke-width="1.9" stroke-linejoin="miter"/>
<polygon points="141.40,615.89 151.00,615.89 146.20,624.49" fill="#fff" stroke="#d02b2b" stroke-width="1.9" stroke-linejoin="miter"/>
<polygon points="161.90,609.42 171.50,609.42 166.70,618.02" fill="#fff" stroke="#d02b2b" stroke-width="1.9" stroke-linejoin="miter"/>
<polygon points="182.40,622.06 192.00,622.06 187.20,630.66" fill="#fff" stroke="#d02b2b" stroke-width="1.9" stroke-linejoin="miter"/>
<line x1="82.3" y1="476.0" x2="106.0" y2="476.0" stroke="#3e46a6" stroke-width="1.1" />
<text x="94.1" y="476.2" font-size="15.5" text-anchor="middle" font-weight="bold" font-style="normal" fill="#3e46a6" >*</text>
<line x1="82.3" y1="559.8" x2="106.0" y2="559.8" stroke="#d02b2b" stroke-width="1.1" />
<text x="94.1" y="560.5" font-size="15.5" text-anchor="middle" font-weight="bold" font-style="normal" fill="#d02b2b" >*</text>
<line x1="125.4" y1="518.4" x2="189.7" y2="518.4" stroke="#d02b2b" stroke-width="1.1" />
<text x="157.5" y="518.7" font-size="15.5" text-anchor="middle" font-weight="bold" font-style="normal" fill="#d02b2b" >*</text>
<rect x="73.90" y="704.00" width="40.20" height="219.60" fill="#f1f1ef" stroke="none" stroke-width="0" />
<text x="2.5" y="704.3" font-size="17.5" text-anchor="start" font-weight="bold" font-style="normal" fill="#111" >f</text>
<line x1="51.7" y1="709.2" x2="51.7" y2="926.1" stroke="#2a2a2a" stroke-width="1.2" />
<line x1="51.1" y1="925.5" x2="195.1" y2="925.5" stroke="#2a2a2a" stroke-width="1.2" />
<line x1="48.5" y1="925.5" x2="51.7" y2="925.5" stroke="#2a2a2a" stroke-width="1.2" />
<text transform="translate(45.7,930.3) scale(0.93,1)" font-size="13.5" text-anchor="end" font-weight="normal" font-style="normal" fill="#0a0a0a" >0</text>
<line x1="48.5" y1="882.4" x2="51.7" y2="882.4" stroke="#2a2a2a" stroke-width="1.2" />
<text transform="translate(45.7,887.2) scale(0.93,1)" font-size="13.5" text-anchor="end" font-weight="normal" font-style="normal" fill="#0a0a0a" >50</text>
<line x1="48.5" y1="839.2" x2="51.7" y2="839.2" stroke="#2a2a2a" stroke-width="1.2" />
<text transform="translate(45.7,844.0) scale(0.93,1)" font-size="13.5" text-anchor="end" font-weight="normal" font-style="normal" fill="#0a0a0a" >100</text>
<line x1="48.5" y1="796.1" x2="51.7" y2="796.1" stroke="#2a2a2a" stroke-width="1.2" />
<text transform="translate(45.7,800.9) scale(0.93,1)" font-size="13.5" text-anchor="end" font-weight="normal" font-style="normal" fill="#0a0a0a" >150</text>
<line x1="48.5" y1="752.9" x2="51.7" y2="752.9" stroke="#2a2a2a" stroke-width="1.2" />
<text transform="translate(45.7,757.7) scale(0.93,1)" font-size="13.5" text-anchor="end" font-weight="normal" font-style="normal" fill="#0a0a0a" >200</text>
<line x1="48.5" y1="709.8" x2="51.7" y2="709.8" stroke="#2a2a2a" stroke-width="1.2" />
<text transform="translate(45.7,714.6) scale(0.93,1)" font-size="13.5" text-anchor="end" font-weight="normal" font-style="normal" fill="#0a0a0a" >250</text>
<line x1="62.2" y1="925.5" x2="62.2" y2="928.7" stroke="#2a2a2a" stroke-width="1.2" />
<text x="62.2" y="940.5" font-size="13.5" text-anchor="middle" font-weight="normal" font-style="normal" fill="#0a0a0a" >T</text>
<line x1="82.7" y1="925.5" x2="82.7" y2="928.7" stroke="#2a2a2a" stroke-width="1.2" />
<text x="82.7" y="940.5" font-size="13.5" text-anchor="middle" font-weight="normal" font-style="normal" fill="#0a0a0a" >1</text>
<line x1="103.1" y1="925.5" x2="103.1" y2="928.7" stroke="#2a2a2a" stroke-width="1.2" />
<text x="103.1" y="940.5" font-size="13.5" text-anchor="middle" font-weight="normal" font-style="normal" fill="#0a0a0a" >2</text>
<line x1="123.6" y1="925.5" x2="123.6" y2="928.7" stroke="#2a2a2a" stroke-width="1.2" />
<text x="123.6" y="940.5" font-size="13.5" text-anchor="middle" font-weight="normal" font-style="normal" fill="#0a0a0a" >3</text>
<line x1="144.1" y1="925.5" x2="144.1" y2="928.7" stroke="#2a2a2a" stroke-width="1.2" />
<text x="144.1" y="940.5" font-size="13.5" text-anchor="middle" font-weight="normal" font-style="normal" fill="#0a0a0a" >4</text>
<line x1="164.5" y1="925.5" x2="164.5" y2="928.7" stroke="#2a2a2a" stroke-width="1.2" />
<text x="164.5" y="940.5" font-size="13.5" text-anchor="middle" font-weight="normal" font-style="normal" fill="#0a0a0a" >5</text>
<line x1="185.0" y1="925.5" x2="185.0" y2="928.7" stroke="#2a2a2a" stroke-width="1.2" />
<text x="185.0" y="940.5" font-size="13.5" text-anchor="middle" font-weight="normal" font-style="normal" fill="#0a0a0a" >6</text>
<text x="123.6" y="955.7" font-size="13.6" text-anchor="middle" font-weight="normal" font-style="normal" fill="#0a0a0a" >Session</text>
<text transform="translate(16.7,818.8) rotate(-90)" font-size="13.6" text-anchor="middle" fill="#0a0a0a">Average Latency (sec)</text>
<line x1="82.7" y1="844.1" x2="82.7" y2="892.4" stroke="#666" stroke-width="0.9" /><line x1="80.2" y1="844.1" x2="85.2" y2="844.1" stroke="#666" stroke-width="0.9" /><line x1="80.2" y1="892.4" x2="85.2" y2="892.4" stroke="#666" stroke-width="0.9" />
<line x1="103.1" y1="893.7" x2="103.1" y2="917.9" stroke="#666" stroke-width="0.9" /><line x1="100.6" y1="893.7" x2="105.6" y2="893.7" stroke="#666" stroke-width="0.9" /><line x1="100.6" y1="917.9" x2="105.6" y2="917.9" stroke="#666" stroke-width="0.9" />
<line x1="123.6" y1="903.9" x2="123.6" y2="921.2" stroke="#666" stroke-width="0.9" /><line x1="121.1" y1="903.9" x2="126.1" y2="903.9" stroke="#666" stroke-width="0.9" /><line x1="121.1" y1="921.2" x2="126.1" y2="921.2" stroke="#666" stroke-width="0.9" />
<line x1="82.7" y1="844.0" x2="82.7" y2="887.1" stroke="#666" stroke-width="0.9" /><line x1="80.2" y1="844.0" x2="85.2" y2="844.0" stroke="#666" stroke-width="0.9" /><line x1="80.2" y1="887.1" x2="85.2" y2="887.1" stroke="#666" stroke-width="0.9" />
<line x1="103.1" y1="793.1" x2="103.1" y2="882.8" stroke="#666" stroke-width="0.9" /><line x1="100.6" y1="793.1" x2="105.6" y2="793.1" stroke="#666" stroke-width="0.9" /><line x1="100.6" y1="882.8" x2="105.6" y2="882.8" stroke="#666" stroke-width="0.9" />
<line x1="82.7" y1="870.5" x2="82.7" y2="896.3" stroke="#666" stroke-width="0.9" /><line x1="80.2" y1="870.5" x2="85.2" y2="870.5" stroke="#666" stroke-width="0.9" /><line x1="80.2" y1="896.3" x2="85.2" y2="896.3" stroke="#666" stroke-width="0.9" />
<line x1="103.1" y1="762.4" x2="103.1" y2="805.6" stroke="#666" stroke-width="0.9" /><line x1="100.6" y1="762.4" x2="105.6" y2="762.4" stroke="#666" stroke-width="0.9" /><line x1="100.6" y1="805.6" x2="105.6" y2="805.6" stroke="#666" stroke-width="0.9" />
<line x1="123.6" y1="792.8" x2="123.6" y2="844.6" stroke="#666" stroke-width="0.9" /><line x1="121.1" y1="792.8" x2="126.1" y2="792.8" stroke="#666" stroke-width="0.9" /><line x1="121.1" y1="844.6" x2="126.1" y2="844.6" stroke="#666" stroke-width="0.9" />
<line x1="144.1" y1="818.6" x2="144.1" y2="895.4" stroke="#666" stroke-width="0.9" /><line x1="141.6" y1="818.6" x2="146.6" y2="818.6" stroke="#666" stroke-width="0.9" /><line x1="141.6" y1="895.4" x2="146.6" y2="895.4" stroke="#666" stroke-width="0.9" />
<line x1="164.5" y1="823.8" x2="164.5" y2="898.8" stroke="#666" stroke-width="0.9" /><line x1="162.0" y1="823.8" x2="167.0" y2="823.8" stroke="#666" stroke-width="0.9" /><line x1="162.0" y1="898.8" x2="167.0" y2="898.8" stroke="#666" stroke-width="0.9" />
<line x1="185.0" y1="788.7" x2="185.0" y2="843.1" stroke="#666" stroke-width="0.9" /><line x1="182.5" y1="788.7" x2="187.5" y2="788.7" stroke="#666" stroke-width="0.9" /><line x1="182.5" y1="843.1" x2="187.5" y2="843.1" stroke="#666" stroke-width="0.9" />
<line x1="82.7" y1="784.0" x2="82.7" y2="861.7" stroke="#666" stroke-width="0.9" /><line x1="80.2" y1="784.0" x2="85.2" y2="784.0" stroke="#666" stroke-width="0.9" /><line x1="80.2" y1="861.7" x2="85.2" y2="861.7" stroke="#666" stroke-width="0.9" />
<line x1="103.1" y1="712.4" x2="103.1" y2="755.5" stroke="#666" stroke-width="0.9" /><line x1="100.6" y1="712.4" x2="105.6" y2="712.4" stroke="#666" stroke-width="0.9" /><line x1="100.6" y1="755.5" x2="105.6" y2="755.5" stroke="#666" stroke-width="0.9" />
<line x1="144.1" y1="901.6" x2="144.1" y2="913.7" stroke="#666" stroke-width="0.9" /><line x1="141.6" y1="901.6" x2="146.6" y2="901.6" stroke="#666" stroke-width="0.9" /><line x1="141.6" y1="913.7" x2="146.6" y2="913.7" stroke="#666" stroke-width="0.9" />
<line x1="185.0" y1="887.4" x2="185.0" y2="920.2" stroke="#666" stroke-width="0.9" /><line x1="182.5" y1="887.4" x2="187.5" y2="887.4" stroke="#666" stroke-width="0.9" /><line x1="182.5" y1="920.2" x2="187.5" y2="920.2" stroke="#666" stroke-width="0.9" />
<polyline points="82.70,868.21 103.10,905.83 123.60,912.56 144.10,922.91 164.50,922.91 185.00,923.34" fill="none" stroke="#3e46a6" stroke-width="2.2" stroke-linejoin="round"/>
<circle cx="82.70" cy="868.21" r="3.5" fill="#fff" stroke="#3e46a6" stroke-width="1.6"/>
<circle cx="103.10" cy="905.83" r="3.5" fill="#fff" stroke="#3e46a6" stroke-width="1.6"/>
<circle cx="123.60" cy="912.56" r="3.5" fill="#fff" stroke="#3e46a6" stroke-width="1.6"/>
<circle cx="144.10" cy="922.91" r="3.5" fill="#fff" stroke="#3e46a6" stroke-width="1.6"/>
<circle cx="164.50" cy="922.91" r="3.5" fill="#fff" stroke="#3e46a6" stroke-width="1.6"/>
<circle cx="185.00" cy="923.34" r="3.5" fill="#fff" stroke="#3e46a6" stroke-width="1.6"/>
<polyline points="82.70,865.54 103.10,837.93 123.60,923.08 144.10,923.08 164.50,921.53 185.00,924.03" fill="none" stroke="#3e46a6" stroke-width="2.2" stroke-linejoin="round"/>
<circle cx="62.20" cy="922.91" r="4.2" fill="#3e46a6" stroke="#3e46a6" stroke-width="0.6"/>
<circle cx="82.70" cy="865.54" r="4.2" fill="#3e46a6" stroke="#3e46a6" stroke-width="0.6"/>
<circle cx="103.10" cy="837.93" r="4.2" fill="#3e46a6" stroke="#3e46a6" stroke-width="0.6"/>
<circle cx="123.60" cy="923.08" r="4.2" fill="#3e46a6" stroke="#3e46a6" stroke-width="0.6"/>
<circle cx="144.10" cy="923.08" r="4.2" fill="#3e46a6" stroke="#3e46a6" stroke-width="0.6"/>
<circle cx="164.50" cy="921.53" r="4.2" fill="#3e46a6" stroke="#3e46a6" stroke-width="0.6"/>
<circle cx="185.00" cy="924.03" r="4.2" fill="#3e46a6" stroke="#3e46a6" stroke-width="0.6"/>
<polyline points="82.70,822.83 103.10,733.96 123.60,916.35 144.10,907.64 164.50,918.25 185.00,903.76" fill="none" stroke="#d02b2b" stroke-width="2.2" stroke-linejoin="round"/>
<polygon points="78.20,819.47 87.20,819.47 82.70,827.47" fill="#d02b2b" stroke="#d02b2b" stroke-width="1.0" stroke-linejoin="miter"/>
<polygon points="98.60,730.60 107.60,730.60 103.10,738.60" fill="#d02b2b" stroke="#d02b2b" stroke-width="1.0" stroke-linejoin="miter"/>
<polygon points="119.10,912.99 128.10,912.99 123.60,920.99" fill="#d02b2b" stroke="#d02b2b" stroke-width="1.0" stroke-linejoin="miter"/>
<polygon points="139.60,904.28 148.60,904.28 144.10,912.28" fill="#d02b2b" stroke="#d02b2b" stroke-width="1.0" stroke-linejoin="miter"/>
<polygon points="160.00,914.89 169.00,914.89 164.50,922.89" fill="#d02b2b" stroke="#d02b2b" stroke-width="1.0" stroke-linejoin="miter"/>
<polygon points="180.50,900.40 189.50,900.40 185.00,908.40" fill="#d02b2b" stroke="#d02b2b" stroke-width="1.0" stroke-linejoin="miter"/>
<polyline points="82.70,883.40 103.10,784.00 123.60,818.69 144.10,856.99 164.50,861.31 185.00,815.92" fill="none" stroke="#d02b2b" stroke-width="2.2" stroke-linejoin="round"/>
<polygon points="58.40,918.33 66.00,918.33 62.20,925.13" fill="#fff" stroke="#d02b2b" stroke-width="1.8" stroke-linejoin="miter"/>
<polygon points="78.90,880.54 86.50,880.54 82.70,887.34" fill="#fff" stroke="#d02b2b" stroke-width="1.8" stroke-linejoin="miter"/>
<polygon points="99.30,781.14 106.90,781.14 103.10,787.94" fill="#fff" stroke="#d02b2b" stroke-width="1.8" stroke-linejoin="miter"/>
<polygon points="119.80,815.83 127.40,815.83 123.60,822.63" fill="#fff" stroke="#d02b2b" stroke-width="1.8" stroke-linejoin="miter"/>
<polygon points="140.30,854.14 147.90,854.14 144.10,860.94" fill="#fff" stroke="#d02b2b" stroke-width="1.8" stroke-linejoin="miter"/>
<polygon points="160.70,858.45 168.30,858.45 164.50,865.25" fill="#fff" stroke="#d02b2b" stroke-width="1.8" stroke-linejoin="miter"/>
<polygon points="181.20,813.07 188.80,813.07 185.00,819.87" fill="#fff" stroke="#d02b2b" stroke-width="1.8" stroke-linejoin="miter"/>
<line x1="121.9" y1="772.0" x2="187.6" y2="772.0" stroke="#d02b2b" stroke-width="1.1" />
<text x="154.8" y="772.7" font-size="15.5" text-anchor="middle" font-weight="bold" font-style="normal" fill="#d02b2b" >*</text>
<text x="198.5" y="699.2" font-size="12.4" text-anchor="middle" font-weight="normal" font-style="normal" fill="#0a0a0a" >R1 R2</text>
<text x="179.3" y="713.6" font-size="12.4" text-anchor="end" font-weight="normal" font-style="normal" fill="#0a0a0a" >A-Veh</text>
<text x="179.3" y="728.0" font-size="12.4" text-anchor="end" font-weight="normal" font-style="normal" fill="#0a0a0a" >A-CNO</text>
<line x1="181.8" y1="709.6" x2="195.5" y2="709.6" stroke="#d02b2b" stroke-width="2.2" />
<line x1="200.7" y1="709.6" x2="215.1" y2="709.6" stroke="#3e46a6" stroke-width="2.2" />
<polygon points="184.80,706.74 192.40,706.74 188.60,713.54" fill="#fff" stroke="#d02b2b" stroke-width="1.8" stroke-linejoin="miter"/>
<circle cx="207.80" cy="709.60" r="3.4" fill="#fff" stroke="#3e46a6" stroke-width="1.6"/>
<line x1="181.8" y1="724.0" x2="195.5" y2="724.0" stroke="#d02b2b" stroke-width="2.2" />
<line x1="200.7" y1="724.0" x2="215.1" y2="724.0" stroke="#3e46a6" stroke-width="2.2" />
<polygon points="184.10,720.64 193.10,720.64 188.60,728.64" fill="#d02b2b" stroke="#d02b2b" stroke-width="1.0" stroke-linejoin="miter"/>
<circle cx="207.80" cy="724.00" r="4.0" fill="#3e46a6" stroke="#3e46a6" stroke-width="0.6"/>
<text x="351.2" y="416.4" font-size="15" text-anchor="middle" font-weight="bold" font-style="normal" fill="#111" >Expression</text>
<text x="233.5" y="428.3" font-size="17.5" text-anchor="start" font-weight="bold" font-style="normal" fill="#111" >g</text>
<line x1="288.4" y1="493.7" x2="426.5" y2="493.7" stroke="#111" stroke-width="1.75" stroke-dasharray="0 5.49" stroke-linecap="round"/>
<line x1="295.0" y1="617.3" x2="295.0" y2="623.7" stroke="#333" stroke-width="1.0" /><line x1="292.9" y1="617.3" x2="297.1" y2="617.3" stroke="#333" stroke-width="1.0" />
<rect x="287.20" y="623.71" width="15.70" height="22.29" fill="#fff"/><path d="M288.30,646.00 L288.30,624.81 L301.80,624.81 L301.80,646.00" fill="none" stroke="#d02b2b" stroke-width="2.2" stroke-linejoin="miter"/>
<line x1="311.1" y1="630.4" x2="311.1" y2="633.2" stroke="#333" stroke-width="1.0" /><line x1="309.0" y1="630.4" x2="313.2" y2="630.4" stroke="#333" stroke-width="1.0" />
<rect x="302.40" y="633.18" width="16.90" height="12.82" fill="#d02b2b" stroke="none" stroke-width="0" />
<line x1="342.1" y1="526.6" x2="342.1" y2="546.8" stroke="#333" stroke-width="1.0" /><line x1="340.0" y1="526.6" x2="344.2" y2="526.6" stroke="#333" stroke-width="1.0" />
<rect x="333.50" y="546.78" width="16.80" height="99.22" fill="#3e46a6" stroke="none" stroke-width="0" />
<line x1="327.1" y1="450.0" x2="327.1" y2="458.2" stroke="#333" stroke-width="1.0" /><line x1="324.9" y1="450.0" x2="329.2" y2="450.0" stroke="#333" stroke-width="1.0" />
<rect x="319.30" y="458.24" width="15.50" height="187.76" fill="#fff"/><path d="M320.40,646.00 L320.40,459.34 L333.70,459.34 L333.70,646.00" fill="none" stroke="#3e46a6" stroke-width="2.2" stroke-linejoin="miter"/>
<line x1="366.4" y1="530.3" x2="366.4" y2="556.9" stroke="#333" stroke-width="1.0" /><line x1="364.2" y1="530.3" x2="368.5" y2="530.3" stroke="#333" stroke-width="1.0" />
<rect x="358.60" y="556.85" width="15.50" height="89.15" fill="#fff"/><path d="M359.70,646.00 L359.70,557.95 L373.00,557.95 L373.00,646.00" fill="none" stroke="#d02b2b" stroke-width="2.2" stroke-linejoin="miter"/>
<line x1="382.1" y1="628.3" x2="382.1" y2="634.1" stroke="#333" stroke-width="1.0" /><line x1="380.0" y1="628.3" x2="384.2" y2="628.3" stroke="#333" stroke-width="1.0" />
<rect x="373.60" y="634.09" width="16.60" height="11.91" fill="#d02b2b" stroke="none" stroke-width="0" />
<line x1="413.1" y1="532.1" x2="413.1" y2="552.3" stroke="#333" stroke-width="1.0" /><line x1="411.0" y1="532.1" x2="415.2" y2="532.1" stroke="#333" stroke-width="1.0" />
<rect x="404.40" y="552.27" width="17.00" height="93.73" fill="#3e46a6" stroke="none" stroke-width="0" />
<line x1="397.9" y1="435.3" x2="397.9" y2="446.3" stroke="#333" stroke-width="1.0" /><line x1="395.8" y1="435.3" x2="400.1" y2="435.3" stroke="#333" stroke-width="1.0" />
<rect x="390.20" y="446.33" width="15.50" height="199.67" fill="#fff"/><path d="M391.30,646.00 L391.30,447.43 L404.60,447.43 L404.60,646.00" fill="none" stroke="#3e46a6" stroke-width="2.2" stroke-linejoin="miter"/>
<line x1="283.3" y1="431.7" x2="283.3" y2="646.6" stroke="#2a2a2a" stroke-width="1.2" />
<line x1="282.7" y1="646.0" x2="425.8" y2="646.0" stroke="#2a2a2a" stroke-width="1.2" />
<line x1="278.3" y1="646.0" x2="283.3" y2="646.0" stroke="#2a2a2a" stroke-width="1.2" />
<text transform="translate(274.6,650.8) scale(0.93,1)" font-size="13.5" text-anchor="end" font-weight="normal" font-style="normal" fill="#0a0a0a" >0.0</text>
<line x1="278.3" y1="615.5" x2="283.3" y2="615.5" stroke="#2a2a2a" stroke-width="1.2" />
<text transform="translate(274.6,620.3) scale(0.93,1)" font-size="13.5" text-anchor="end" font-weight="normal" font-style="normal" fill="#0a0a0a" >0.1</text>
<line x1="278.3" y1="584.9" x2="283.3" y2="584.9" stroke="#2a2a2a" stroke-width="1.2" />
<text transform="translate(274.6,589.7) scale(0.93,1)" font-size="13.5" text-anchor="end" font-weight="normal" font-style="normal" fill="#0a0a0a" >0.2</text>
<line x1="278.3" y1="554.4" x2="283.3" y2="554.4" stroke="#2a2a2a" stroke-width="1.2" />
<text transform="translate(274.6,559.2) scale(0.93,1)" font-size="13.5" text-anchor="end" font-weight="normal" font-style="normal" fill="#0a0a0a" >0.3</text>
<line x1="278.3" y1="523.9" x2="283.3" y2="523.9" stroke="#2a2a2a" stroke-width="1.2" />
<text transform="translate(274.6,528.7) scale(0.93,1)" font-size="13.5" text-anchor="end" font-weight="normal" font-style="normal" fill="#0a0a0a" >0.4</text>
<line x1="278.3" y1="493.4" x2="283.3" y2="493.4" stroke="#2a2a2a" stroke-width="1.2" />
<text transform="translate(274.6,498.2) scale(0.93,1)" font-size="13.5" text-anchor="end" font-weight="normal" font-style="normal" fill="#0a0a0a" >0.5</text>
<line x1="278.3" y1="462.8" x2="283.3" y2="462.8" stroke="#2a2a2a" stroke-width="1.2" />
<text transform="translate(274.6,467.6) scale(0.93,1)" font-size="13.5" text-anchor="end" font-weight="normal" font-style="normal" fill="#0a0a0a" >0.6</text>
<line x1="278.3" y1="432.3" x2="283.3" y2="432.3" stroke="#2a2a2a" stroke-width="1.2" />
<text transform="translate(274.6,437.1) scale(0.93,1)" font-size="13.5" text-anchor="end" font-weight="normal" font-style="normal" fill="#0a0a0a" >0.7</text>
<line x1="318.9" y1="646.0" x2="318.9" y2="649.2" stroke="#2a2a2a" stroke-width="1.2" />
<text x="318.9" y="662.5" font-size="13.2" text-anchor="middle" font-weight="normal" font-style="normal" fill="#0a0a0a" >A-Veh</text>
<line x1="389.8" y1="646.0" x2="389.8" y2="649.2" stroke="#2a2a2a" stroke-width="1.2" />
<text x="389.8" y="662.5" font-size="13.2" text-anchor="middle" font-weight="normal" font-style="normal" fill="#0a0a0a" >A-CNO</text>
<text x="354.3" y="676.0" font-size="13.2" text-anchor="middle" font-weight="normal" font-style="normal" fill="#0a0a0a" >Group</text>
<text transform="translate(247.3,539.5) rotate(-90)" font-size="13.6" text-anchor="middle" fill="#0a0a0a">Suppression Ratio</text>
<line x1="324.0" y1="444.7" x2="344.9" y2="444.7" stroke="#3e46a6" stroke-width="1.1" />
<text x="334.4" y="445.4" font-size="15.5" text-anchor="middle" font-weight="bold" font-style="normal" fill="#3e46a6" >*</text>
<line x1="365.4" y1="477.3" x2="386.5" y2="477.3" stroke="#d02b2b" stroke-width="1.1" />
<text x="375.9" y="478.0" font-size="15.5" text-anchor="middle" font-weight="bold" font-style="normal" fill="#d02b2b" >*</text>
<line x1="394.5" y1="429.1" x2="415.8" y2="429.1" stroke="#3e46a6" stroke-width="1.1" />
<text x="405.1" y="429.8" font-size="15.5" text-anchor="middle" font-weight="bold" font-style="normal" fill="#3e46a6" >*</text>
<text x="583.2" y="416.4" font-size="15" text-anchor="middle" font-weight="bold" font-style="normal" fill="#111" >Choice</text>
<text x="467.6" y="428.0" font-size="17.5" text-anchor="start" font-weight="bold" font-style="normal" fill="#111" >i</text>
<line x1="518.4" y1="493.7" x2="656.5" y2="493.7" stroke="#111" stroke-width="1.75" stroke-dasharray="0 5.49" stroke-linecap="round"/>
<line x1="525.0" y1="607.2" x2="525.0" y2="619.1" stroke="#333" stroke-width="1.0" /><line x1="522.9" y1="607.2" x2="527.1" y2="607.2" stroke="#333" stroke-width="1.0" />
<rect x="517.20" y="619.13" width="15.70" height="26.87" fill="#fff"/><path d="M518.30,646.00 L518.30,620.23 L531.80,620.23 L531.80,646.00" fill="none" stroke="#d02b2b" stroke-width="2.2" stroke-linejoin="miter"/>
<line x1="541.1" y1="608.1" x2="541.1" y2="620.7" stroke="#333" stroke-width="1.0" /><line x1="539.0" y1="608.1" x2="543.2" y2="608.1" stroke="#333" stroke-width="1.0" />
<rect x="532.40" y="620.66" width="16.90" height="25.34" fill="#d02b2b" stroke="none" stroke-width="0" />
<line x1="572.1" y1="553.8" x2="572.1" y2="578.8" stroke="#333" stroke-width="1.0" /><line x1="570.0" y1="553.8" x2="574.2" y2="553.8" stroke="#333" stroke-width="1.0" />
<rect x="563.50" y="578.83" width="16.80" height="67.17" fill="#3e46a6" stroke="none" stroke-width="0" />
<line x1="557.0" y1="495.2" x2="557.0" y2="502.5" stroke="#333" stroke-width="1.0" /><line x1="554.9" y1="495.2" x2="559.1" y2="495.2" stroke="#333" stroke-width="1.0" />
<rect x="549.30" y="502.51" width="15.50" height="143.49" fill="#fff"/><path d="M550.40,646.00 L550.40,503.61 L563.70,503.61 L563.70,646.00" fill="none" stroke="#3e46a6" stroke-width="2.2" stroke-linejoin="miter"/>
<line x1="596.4" y1="572.4" x2="596.4" y2="587.1" stroke="#333" stroke-width="1.0" /><line x1="594.2" y1="572.4" x2="598.5" y2="572.4" stroke="#333" stroke-width="1.0" />
<rect x="588.60" y="587.08" width="15.50" height="58.92" fill="#fff"/><path d="M589.70,646.00 L589.70,588.18 L603.00,588.18 L603.00,646.00" fill="none" stroke="#d02b2b" stroke-width="2.2" stroke-linejoin="miter"/>
<line x1="612.2" y1="617.3" x2="612.2" y2="627.4" stroke="#333" stroke-width="1.0" /><line x1="610.1" y1="617.3" x2="614.3" y2="617.3" stroke="#333" stroke-width="1.0" />
<rect x="603.60" y="627.38" width="16.60" height="18.62" fill="#d02b2b" stroke="none" stroke-width="0" />
<line x1="643.1" y1="544.3" x2="643.1" y2="571.2" stroke="#333" stroke-width="1.0" /><line x1="641.0" y1="544.3" x2="645.2" y2="544.3" stroke="#333" stroke-width="1.0" />
<rect x="634.40" y="571.20" width="17.00" height="74.80" fill="#3e46a6" stroke="none" stroke-width="0" />
<line x1="628.0" y1="457.9" x2="628.0" y2="472.3" stroke="#333" stroke-width="1.0" /><line x1="625.9" y1="457.9" x2="630.1" y2="457.9" stroke="#333" stroke-width="1.0" />
<rect x="620.20" y="472.28" width="15.50" height="173.72" fill="#fff"/><path d="M621.30,646.00 L621.30,473.38 L634.60,473.38 L634.60,646.00" fill="none" stroke="#3e46a6" stroke-width="2.2" stroke-linejoin="miter"/>
<line x1="513.3" y1="431.7" x2="513.3" y2="646.6" stroke="#2a2a2a" stroke-width="1.2" />
<line x1="512.7" y1="646.0" x2="655.8" y2="646.0" stroke="#2a2a2a" stroke-width="1.2" />
<line x1="508.3" y1="646.0" x2="513.3" y2="646.0" stroke="#2a2a2a" stroke-width="1.2" />
<text transform="translate(504.6,650.8) scale(0.93,1)" font-size="13.5" text-anchor="end" font-weight="normal" font-style="normal" fill="#0a0a0a" >0.0</text>
<line x1="508.3" y1="615.5" x2="513.3" y2="615.5" stroke="#2a2a2a" stroke-width="1.2" />
<text transform="translate(504.6,620.3) scale(0.93,1)" font-size="13.5" text-anchor="end" font-weight="normal" font-style="normal" fill="#0a0a0a" >0.1</text>
<line x1="508.3" y1="584.9" x2="513.3" y2="584.9" stroke="#2a2a2a" stroke-width="1.2" />
<text transform="translate(504.6,589.7) scale(0.93,1)" font-size="13.5" text-anchor="end" font-weight="normal" font-style="normal" fill="#0a0a0a" >0.2</text>
<line x1="508.3" y1="554.4" x2="513.3" y2="554.4" stroke="#2a2a2a" stroke-width="1.2" />
<text transform="translate(504.6,559.2) scale(0.93,1)" font-size="13.5" text-anchor="end" font-weight="normal" font-style="normal" fill="#0a0a0a" >0.3</text>
<line x1="508.3" y1="523.9" x2="513.3" y2="523.9" stroke="#2a2a2a" stroke-width="1.2" />
<text transform="translate(504.6,528.7) scale(0.93,1)" font-size="13.5" text-anchor="end" font-weight="normal" font-style="normal" fill="#0a0a0a" >0.4</text>
<line x1="508.3" y1="493.4" x2="513.3" y2="493.4" stroke="#2a2a2a" stroke-width="1.2" />
<text transform="translate(504.6,498.2) scale(0.93,1)" font-size="13.5" text-anchor="end" font-weight="normal" font-style="normal" fill="#0a0a0a" >0.5</text>
<line x1="508.3" y1="462.8" x2="513.3" y2="462.8" stroke="#2a2a2a" stroke-width="1.2" />
<text transform="translate(504.6,467.6) scale(0.93,1)" font-size="13.5" text-anchor="end" font-weight="normal" font-style="normal" fill="#0a0a0a" >0.6</text>
<line x1="508.3" y1="432.3" x2="513.3" y2="432.3" stroke="#2a2a2a" stroke-width="1.2" />
<text transform="translate(504.6,437.1) scale(0.93,1)" font-size="13.5" text-anchor="end" font-weight="normal" font-style="normal" fill="#0a0a0a" >0.7</text>
<line x1="548.9" y1="646.0" x2="548.9" y2="649.2" stroke="#2a2a2a" stroke-width="1.2" />
<text x="548.9" y="662.5" font-size="13.2" text-anchor="middle" font-weight="normal" font-style="normal" fill="#0a0a0a" >A-Veh</text>
<line x1="619.8" y1="646.0" x2="619.8" y2="649.2" stroke="#2a2a2a" stroke-width="1.2" />
<text x="619.8" y="662.5" font-size="13.2" text-anchor="middle" font-weight="normal" font-style="normal" fill="#0a0a0a" >A-CNO</text>
<text x="584.3" y="676.0" font-size="13.2" text-anchor="middle" font-weight="normal" font-style="normal" fill="#0a0a0a" >Group</text>
<text transform="translate(477.3,539.5) rotate(-90)" font-size="13.6" text-anchor="middle" fill="#0a0a0a">Suppression Ratio</text>
<line x1="555.0" y1="485.7" x2="575.9" y2="485.7" stroke="#3e46a6" stroke-width="1.1" />
<text x="565.5" y="486.4" font-size="15.5" text-anchor="middle" font-weight="bold" font-style="normal" fill="#3e46a6" >*</text>
<line x1="596.0" y1="561.6" x2="617.2" y2="561.6" stroke="#d02b2b" stroke-width="1.1" />
<text x="606.6" y="562.3" font-size="15.5" text-anchor="middle" font-weight="bold" font-style="normal" fill="#d02b2b" >*</text>
<line x1="628.6" y1="447.0" x2="649.8" y2="447.0" stroke="#3e46a6" stroke-width="1.1" />
<text x="639.2" y="447.7" font-size="15.5" text-anchor="middle" font-weight="bold" font-style="normal" fill="#3e46a6" >*</text>
<text x="526.3" y="436.3" font-size="12.9" text-anchor="start" font-weight="normal" font-style="normal" fill="#0a0a0a" >R1 R2</text>
<rect x="527.10" y="440.80" width="13.80" height="7.80" fill="#fff" stroke="#d02b2b" stroke-width="2.1" />
<rect x="547.20" y="440.80" width="14.10" height="7.80" fill="#fff" stroke="#3e46a6" stroke-width="2.1" />
<rect x="526.00" y="451.90" width="16.00" height="10.00" fill="#d02b2b" stroke="none" stroke-width="0" />
<rect x="546.10" y="451.90" width="16.30" height="10.00" fill="#3e46a6" stroke="none" stroke-width="0" />
<text x="565.5" y="449.6" font-size="13.2" text-anchor="start" font-weight="normal" font-style="normal" fill="#0a0a0a" >Veh</text>
<text x="565.5" y="461.7" font-size="13.2" text-anchor="start" font-weight="normal" font-style="normal" fill="#0a0a0a" >CNO</text>
<text x="239.5" y="708.2" font-size="17.5" text-anchor="start" font-weight="bold" font-style="normal" fill="#111" >h</text>
<line x1="301.1" y1="819.6" x2="301.1" y2="850.8" stroke="#333" stroke-width="1.0" /><line x1="299.2" y1="819.6" x2="302.9" y2="819.6" stroke="#333" stroke-width="1.0" />
<rect x="293.80" y="850.82" width="14.50" height="75.38" fill="#fff"/><path d="M294.90,926.20 L294.90,851.92 L307.20,851.92 L307.20,926.20" fill="none" stroke="#d02b2b" stroke-width="2.2" stroke-linejoin="miter"/>
<line x1="315.6" y1="794.1" x2="315.6" y2="820.1" stroke="#333" stroke-width="1.0" /><line x1="313.8" y1="794.1" x2="317.4" y2="794.1" stroke="#333" stroke-width="1.0" />
<rect x="307.80" y="820.07" width="15.20" height="106.13" fill="#d02b2b" stroke="none" stroke-width="0" />
<line x1="330.2" y1="922.9" x2="330.2" y2="924.2" stroke="#333" stroke-width="1.0" /><line x1="328.4" y1="922.9" x2="332.1" y2="922.9" stroke="#333" stroke-width="1.0" />
<rect x="323.80" y="924.61" width="12.90" height="1.59" fill="#fff" stroke="#3e46a6" stroke-width="1.4" />
<line x1="344.6" y1="912.4" x2="344.6" y2="916.1" stroke="#333" stroke-width="1.0" /><line x1="342.8" y1="912.4" x2="346.4" y2="912.4" stroke="#333" stroke-width="1.0" />
<rect x="337.00" y="916.15" width="14.80" height="10.05" fill="#3e46a6" stroke="none" stroke-width="0" />
<line x1="365.6" y1="866.6" x2="365.6" y2="891.7" stroke="#333" stroke-width="1.0" /><line x1="363.8" y1="866.6" x2="367.4" y2="866.6" stroke="#333" stroke-width="1.0" />
<rect x="358.60" y="891.72" width="14.10" height="34.48" fill="#fff"/><path d="M359.70,926.20 L359.70,892.82 L371.60,892.82 L371.60,926.20" fill="none" stroke="#d02b2b" stroke-width="2.2" stroke-linejoin="miter"/>
<line x1="380.1" y1="739.1" x2="380.1" y2="788.4" stroke="#333" stroke-width="1.0" /><line x1="378.3" y1="739.1" x2="381.9" y2="739.1" stroke="#333" stroke-width="1.0" />
<rect x="372.20" y="788.44" width="15.30" height="137.76" fill="#d02b2b" stroke="none" stroke-width="0" />
<line x1="394.4" y1="922.9" x2="394.4" y2="924.2" stroke="#333" stroke-width="1.0" /><line x1="392.6" y1="922.9" x2="396.2" y2="922.9" stroke="#333" stroke-width="1.0" />
<rect x="388.30" y="924.61" width="12.20" height="1.59" fill="#fff" stroke="#3e46a6" stroke-width="1.4" />
<line x1="408.6" y1="897.6" x2="408.6" y2="904.5" stroke="#333" stroke-width="1.0" /><line x1="406.8" y1="897.6" x2="410.4" y2="897.6" stroke="#333" stroke-width="1.0" />
<rect x="400.80" y="904.54" width="15.00" height="21.66" fill="#3e46a6" stroke="none" stroke-width="0" />
<line x1="286.3" y1="709.0" x2="286.3" y2="926.8" stroke="#2a2a2a" stroke-width="1.2" />
<line x1="285.7" y1="926.2" x2="422.4" y2="926.2" stroke="#2a2a2a" stroke-width="1.2" />
<line x1="283.1" y1="926.2" x2="286.3" y2="926.2" stroke="#2a2a2a" stroke-width="1.2" />
<text transform="translate(280.3,931.0) scale(0.93,1)" font-size="13.5" text-anchor="end" font-weight="normal" font-style="normal" fill="#0a0a0a" >0</text>
<line x1="283.1" y1="882.9" x2="286.3" y2="882.9" stroke="#2a2a2a" stroke-width="1.2" />
<text transform="translate(280.3,887.7) scale(0.93,1)" font-size="13.5" text-anchor="end" font-weight="normal" font-style="normal" fill="#0a0a0a" >50</text>
<line x1="283.1" y1="839.6" x2="286.3" y2="839.6" stroke="#2a2a2a" stroke-width="1.2" />
<text transform="translate(280.3,844.4) scale(0.93,1)" font-size="13.5" text-anchor="end" font-weight="normal" font-style="normal" fill="#0a0a0a" >100</text>
<line x1="283.1" y1="796.2" x2="286.3" y2="796.2" stroke="#2a2a2a" stroke-width="1.2" />
<text transform="translate(280.3,801.0) scale(0.93,1)" font-size="13.5" text-anchor="end" font-weight="normal" font-style="normal" fill="#0a0a0a" >150</text>
<line x1="283.1" y1="752.9" x2="286.3" y2="752.9" stroke="#2a2a2a" stroke-width="1.2" />
<text transform="translate(280.3,757.7) scale(0.93,1)" font-size="13.5" text-anchor="end" font-weight="normal" font-style="normal" fill="#0a0a0a" >200</text>
<line x1="283.1" y1="709.6" x2="286.3" y2="709.6" stroke="#2a2a2a" stroke-width="1.2" />
<text transform="translate(280.3,714.4) scale(0.93,1)" font-size="13.5" text-anchor="end" font-weight="normal" font-style="normal" fill="#0a0a0a" >250</text>
<line x1="323.0" y1="926.2" x2="323.0" y2="929.4" stroke="#2a2a2a" stroke-width="1.2" />
<text x="323.6" y="942.7" font-size="13.2" text-anchor="middle" font-weight="normal" font-style="normal" fill="#0a0a0a" >A-Veh</text>
<line x1="387.2" y1="926.2" x2="387.2" y2="929.4" stroke="#2a2a2a" stroke-width="1.2" />
<text x="384.6" y="942.7" font-size="13.2" text-anchor="middle" font-weight="normal" font-style="normal" fill="#0a0a0a" >A-CNO</text>
<text x="351.9" y="955.7" font-size="13.2" text-anchor="middle" font-weight="normal" font-style="normal" fill="#0a0a0a" >Group</text>
<text transform="translate(252.8,820.5) rotate(-90)" font-size="13.6" text-anchor="middle" fill="#0a0a0a">Average Latency (sec)</text>
<text x="294.6" y="713.8" font-size="12.9" text-anchor="start" font-weight="normal" font-style="normal" fill="#0a0a0a" >R1 R2</text>
<rect x="295.60" y="718.10" width="14.20" height="8.20" fill="#fff" stroke="#d02b2b" stroke-width="2.1" />
<rect x="315.90" y="718.10" width="14.20" height="8.20" fill="#fff" stroke="#3e46a6" stroke-width="2.1" />
<rect x="294.60" y="729.90" width="16.20" height="10.00" fill="#d02b2b" stroke="none" stroke-width="0" />
<rect x="314.90" y="729.90" width="16.20" height="10.00" fill="#3e46a6" stroke="none" stroke-width="0" />
<text x="334.3" y="727.2" font-size="13.2" text-anchor="start" font-weight="normal" font-style="normal" fill="#0a0a0a" >Veh</text>
<text x="334.3" y="739.6" font-size="13.2" text-anchor="start" font-weight="normal" font-style="normal" fill="#0a0a0a" >CNO</text>
<text x="454.8" y="707.5" font-size="17.5" text-anchor="start" font-weight="bold" font-style="normal" fill="#111" >j</text>
<text x="575.9" y="703.6" font-size="15" text-anchor="middle" font-weight="bold" font-style="normal" fill="#111" >Locomotor Test</text>
<line x1="529.2" y1="895.0" x2="529.2" y2="902.5" stroke="#333" stroke-width="1.0" /><line x1="526.4" y1="895.0" x2="532.0" y2="895.0" stroke="#333" stroke-width="1.0" />
<rect x="518.50" y="903.16" width="21.40" height="29.54" fill="#fff" stroke="#111" stroke-width="1.4" />
<line x1="552.5" y1="728.1" x2="552.5" y2="748.4" stroke="#333" stroke-width="1.0" /><line x1="549.8" y1="728.1" x2="555.3" y2="728.1" stroke="#333" stroke-width="1.0" />
<rect x="540.80" y="748.38" width="23.50" height="184.32" fill="#050505" stroke="none" stroke-width="0" />
<line x1="600.1" y1="857.5" x2="600.1" y2="867.8" stroke="#333" stroke-width="1.0" /><line x1="597.3" y1="857.5" x2="602.9" y2="857.5" stroke="#333" stroke-width="1.0" />
<rect x="589.30" y="868.54" width="21.60" height="64.16" fill="#fff" stroke="#111" stroke-width="1.4" />
<line x1="623.8" y1="733.2" x2="623.8" y2="768.8" stroke="#333" stroke-width="1.0" /><line x1="621.0" y1="733.2" x2="626.6" y2="733.2" stroke="#333" stroke-width="1.0" />
<rect x="611.80" y="768.79" width="24.00" height="163.91" fill="#050505" stroke="none" stroke-width="0" />
<line x1="505.8" y1="718.4" x2="505.8" y2="933.3" stroke="#2a2a2a" stroke-width="1.2" />
<line x1="505.2" y1="932.7" x2="647.1" y2="932.7" stroke="#2a2a2a" stroke-width="1.2" />
<line x1="500.8" y1="932.7" x2="505.8" y2="932.7" stroke="#2a2a2a" stroke-width="1.2" />
<text transform="translate(497.5,937.6) scale(0.97,1)" font-size="13.8" text-anchor="end" font-weight="normal" font-style="normal" fill="#0a0a0a" >0</text>
<line x1="500.8" y1="879.3" x2="505.8" y2="879.3" stroke="#2a2a2a" stroke-width="1.2" />
<text transform="translate(497.5,884.2) scale(0.97,1)" font-size="13.8" text-anchor="end" font-weight="normal" font-style="normal" fill="#0a0a0a" >50</text>
<line x1="500.8" y1="825.9" x2="505.8" y2="825.9" stroke="#2a2a2a" stroke-width="1.2" />
<text transform="translate(497.5,830.8) scale(0.97,1)" font-size="13.8" text-anchor="end" font-weight="normal" font-style="normal" fill="#0a0a0a" >100</text>
<line x1="500.8" y1="772.4" x2="505.8" y2="772.4" stroke="#2a2a2a" stroke-width="1.2" />
<text transform="translate(497.5,777.3) scale(0.97,1)" font-size="13.8" text-anchor="end" font-weight="normal" font-style="normal" fill="#0a0a0a" >150</text>
<line x1="500.8" y1="719.0" x2="505.8" y2="719.0" stroke="#2a2a2a" stroke-width="1.2" />
<text transform="translate(497.5,723.9) scale(0.97,1)" font-size="13.8" text-anchor="end" font-weight="normal" font-style="normal" fill="#0a0a0a" >200</text>
<text x="542.3" y="948.9" font-size="13.2" text-anchor="middle" font-weight="normal" font-style="normal" fill="#0a0a0a" >A-Veh</text>
<text x="611.8" y="948.9" font-size="13.2" text-anchor="middle" font-weight="normal" font-style="normal" fill="#0a0a0a" >A-CNO</text>
<text x="575.9" y="962.7" font-size="13.2" text-anchor="middle" font-weight="normal" font-style="normal" fill="#0a0a0a" >Group</text>
<text transform="translate(465.7,827.5) rotate(-90)" font-size="13.6" text-anchor="middle" fill="#0a0a0a">Total distance travelled (m)</text>
<line x1="518.8" y1="721.2" x2="549.0" y2="721.2" stroke="#222" stroke-width="1.2" />
<text x="533.9" y="721.3" font-size="15.5" text-anchor="middle" font-weight="bold" font-style="normal" fill="#222" >*</text>
<line x1="596.0" y1="721.2" x2="626.3" y2="721.2" stroke="#222" stroke-width="1.2" />
<text x="611.1" y="721.3" font-size="15.5" text-anchor="middle" font-weight="bold" font-style="normal" fill="#222" >*</text>
<rect x="639.50" y="736.60" width="11.40" height="8.00" fill="#fff" stroke="#111" stroke-width="1.4" />
<rect x="638.80" y="749.40" width="12.80" height="9.20" fill="#050505" stroke="none" stroke-width="0" />
<text x="654.0" y="745.0" font-size="13.2" text-anchor="start" font-weight="normal" font-style="normal" fill="#0a0a0a" >Veh</text>
<text x="654.0" y="758.4" font-size="13.2" text-anchor="start" font-weight="normal" font-style="normal" fill="#0a0a0a" >CNO</text>
</svg></body></html>
